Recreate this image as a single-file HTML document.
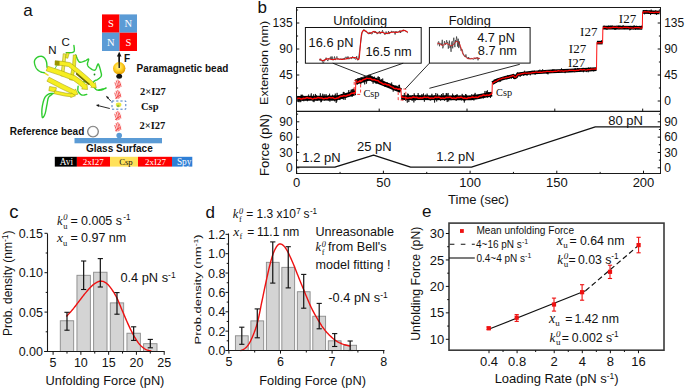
<!DOCTYPE html>
<html><head><meta charset="utf-8"><title>Figure</title>
<style>html,body{margin:0;padding:0;background:#fff;}body{width:685px;height:388px;overflow:hidden;}svg{display:block;}</style>
</head><body>
<svg width="685" height="388" viewBox="0 0 685 388">
<rect width="685" height="388" fill="#fff"/>
<text x="23.30" y="15.80" font-size="17" text-anchor="start" font-family='"Liberation Sans", sans-serif' font-weight="normal" font-style="normal" fill="#111" >a</text>
<rect x="102.00" y="14.40" width="17.50" height="18.30" fill="#ff0000" stroke="none" stroke-width="1" />
<rect x="119.50" y="14.40" width="17.50" height="18.30" fill="#5b9bd5" stroke="none" stroke-width="1" />
<rect x="102.00" y="32.70" width="17.50" height="18.30" fill="#5b9bd5" stroke="none" stroke-width="1" />
<rect x="119.50" y="32.70" width="17.50" height="18.30" fill="#ff0000" stroke="none" stroke-width="1" />
<text x="110.80" y="27.30" font-size="10.5" text-anchor="middle" font-family='"Liberation Serif", serif' font-weight="normal" font-style="normal" fill="#fff" >S</text>
<text x="128.30" y="27.30" font-size="10.5" text-anchor="middle" font-family='"Liberation Serif", serif' font-weight="normal" font-style="normal" fill="#fff" >N</text>
<text x="110.80" y="45.60" font-size="10.5" text-anchor="middle" font-family='"Liberation Serif", serif' font-weight="normal" font-style="normal" fill="#fff" >N</text>
<text x="128.30" y="45.60" font-size="10.5" text-anchor="middle" font-family='"Liberation Serif", serif' font-weight="normal" font-style="normal" fill="#fff" >S</text>
<line x1="119.20" y1="55.00" x2="119.20" y2="68.00" stroke="#111" stroke-width="1.3" />
<path d="M119.2,51.8 L116.9,56.5 L121.5,56.5 Z" fill="#111" stroke="none" stroke-width="1" />
<text x="124.00" y="62.30" font-size="10" text-anchor="start" font-family='"Liberation Sans", sans-serif' font-weight="bold" font-style="normal" fill="#111" >F</text>
<defs><radialGradient id="gb" cx="0.45" cy="0.4" r="0.6"><stop offset="0" stop-color="#fff3a0"/><stop offset="0.55" stop-color="#ffd020"/><stop offset="1" stop-color="#e09a00"/></radialGradient><radialGradient id="gr" cx="0.5" cy="0.5" r="0.5"><stop offset="0" stop-color="#fff"/><stop offset="0.7" stop-color="#fff"/><stop offset="1" stop-color="#bbb"/></radialGradient></defs>
<circle cx="119.2" cy="68.3" r="6.2" fill="url(#gb)"/>
<line x1="119.20" y1="55.00" x2="119.20" y2="68.00" stroke="#111" stroke-width="1.3" />
<ellipse cx="119.2" cy="76.3" rx="2.9" ry="2.5" fill="#111"/>
<text x="136.60" y="71.80" font-size="10" text-anchor="start" font-family='"Liberation Sans", sans-serif' font-weight="bold" font-style="normal" fill="#111" >Paramagnetic bead</text>
<ellipse cx="118.2" cy="84.2" rx="3.8" ry="4.6" fill="#ffe8e8" opacity="0.6"/>
<path d="M115.0,82.8 C115.7,85.1 116.7,86.9 117.0,88.3 M116.4,80.9 C117.2,83.7 117.7,86.0 118.4,87.9 M118.0,80.0 C118.7,82.3 119.0,85.1 119.4,87.4 M119.4,81.4 C120.2,83.2 120.8,85.1 121.0,86.5 M115.6,87.9 L120.4,84.6" fill="none" stroke="#f03030" stroke-width="0.75" stroke-linecap="round"/>
<ellipse cx="118.0" cy="94.5" rx="3.8" ry="4.7" fill="#ffe8e8" opacity="0.6"/>
<path d="M114.8,93.1 C115.5,95.4 116.5,97.3 116.8,98.7 M116.2,91.2 C117.0,94.0 117.5,96.4 118.2,98.3 M117.8,90.3 C118.5,92.6 118.8,95.4 119.2,97.8 M119.2,91.7 C120.0,93.6 120.6,95.4 120.8,96.8 M115.4,98.3 L120.2,95.0" fill="none" stroke="#f03030" stroke-width="0.75" stroke-linecap="round"/>
<ellipse cx="118.0" cy="115.7" rx="3.8" ry="4.9" fill="#ffe8e8" opacity="0.6"/>
<path d="M114.8,114.2 C115.5,116.7 116.5,118.6 116.8,120.1 M116.2,112.3 C117.0,115.2 117.5,117.7 118.2,119.6 M117.8,111.3 C118.5,113.7 118.8,116.7 119.2,119.1 M119.2,112.8 C120.0,114.7 120.6,116.7 120.8,118.1 M115.4,119.6 L120.2,116.2" fill="none" stroke="#f03030" stroke-width="0.75" stroke-linecap="round"/>
<ellipse cx="118.0" cy="126.9" rx="3.8" ry="4.9" fill="#ffe8e8" opacity="0.6"/>
<path d="M114.8,125.4 C115.5,127.9 116.5,129.8 116.8,131.3 M116.2,123.5 C117.0,126.4 117.5,128.9 118.2,130.8 M117.8,122.5 C118.5,124.9 118.8,127.9 119.2,130.3 M119.2,124.0 C120.0,125.9 120.6,127.9 120.8,129.4 M115.4,130.8 L120.2,127.4" fill="none" stroke="#f03030" stroke-width="0.75" stroke-linecap="round"/>
<rect x="112.00" y="101.00" width="13.80" height="8.20" fill="none" stroke="#4a7cc0" stroke-width="1.0" stroke-dasharray="2.2,2"/>
<ellipse cx="118.6" cy="104.8" rx="2.8" ry="2.2" fill="#e8e840"/>
<ellipse cx="118.2" cy="106.0" rx="1.3" ry="1.2" fill="#90c040"/>
<circle cx="119.2" cy="135.6" r="2.8" fill="#5b9bd5"/>
<rect x="74.50" y="138.00" width="87.50" height="5.30" fill="#5b9bd5" stroke="none" stroke-width="1" />
<circle cx="93.0" cy="131.6" r="5.4" fill="url(#gr)" stroke="#808080" stroke-width="1.1"/>
<text x="9.80" y="134.60" font-size="10" text-anchor="start" font-family='"Liberation Sans", sans-serif' font-weight="bold" font-style="normal" fill="#111" >Reference bead</text>
<text x="86.00" y="152.40" font-size="10" text-anchor="start" font-family='"Liberation Sans", sans-serif' font-weight="bold" font-style="normal" fill="#111" >Glass Surface</text>
<text x="140.00" y="94.60" font-size="10.5" text-anchor="start" font-family='"Liberation Serif", serif' font-weight="bold" font-style="normal" fill="#111" >2&#215;I27</text>
<text x="141.00" y="110.00" font-size="10.5" text-anchor="start" font-family='"Liberation Serif", serif' font-weight="bold" font-style="normal" fill="#111" >Csp</text>
<text x="139.50" y="128.60" font-size="10.5" text-anchor="start" font-family='"Liberation Serif", serif' font-weight="bold" font-style="normal" fill="#111" >2&#215;I27</text>
<line x1="110.90" y1="101.20" x2="107.30" y2="97.30" stroke="#111" stroke-width="0.9" />
<path d="M105.9,95.7 L109.0,97.2 L107.3,98.8 Z" fill="#111" stroke="none" stroke-width="1" />
<line x1="109.80" y1="108.50" x2="98.00" y2="105.60" stroke="#111" stroke-width="0.9" />
<path d="M95.9,105.0 L99.2,104.3 L98.6,106.9 Z" fill="#111" stroke="none" stroke-width="1" />
<rect x="54.80" y="156.80" width="22.10" height="9.80" fill="#000000" stroke="none" stroke-width="1" />
<text x="66.40" y="165.00" font-size="9.3" text-anchor="middle" font-family='"Liberation Serif", serif' font-weight="normal" font-style="normal" fill="#fff" >Avi</text>
<rect x="76.90" y="156.80" width="33.10" height="9.80" fill="#ff0000" stroke="none" stroke-width="1" />
<text x="93.20" y="165.00" font-size="9" text-anchor="middle" font-family='"Liberation Serif", serif' font-weight="normal" font-style="normal" fill="#fff" >2xI27</text>
<rect x="110.00" y="156.80" width="28.00" height="9.80" fill="#ffe15a" stroke="none" stroke-width="1" />
<text x="125.90" y="165.00" font-size="8.7" text-anchor="middle" font-family='"Liberation Serif", serif' font-weight="normal" font-style="normal" fill="#111" >Csp</text>
<rect x="138.00" y="156.80" width="34.00" height="9.80" fill="#ff0000" stroke="none" stroke-width="1" />
<text x="155.60" y="165.00" font-size="9" text-anchor="middle" font-family='"Liberation Serif", serif' font-weight="normal" font-style="normal" fill="#fff" >2xI27</text>
<rect x="172.00" y="156.80" width="20.30" height="9.80" fill="#2f7fd6" stroke="none" stroke-width="1" />
<text x="184.20" y="165.00" font-size="9.3" text-anchor="middle" font-family='"Liberation Serif", serif' font-weight="normal" font-style="normal" fill="#fff" >Spy</text>
<polyline points="47.00,67.20 46.97,66.79 46.95,66.24 46.92,65.58 46.88,64.85 46.82,64.09 46.74,63.34 46.64,62.63 46.50,62.00 46.33,61.43 46.13,60.86 45.91,60.31 45.67,59.78 45.40,59.28 45.12,58.81 44.82,58.38 44.50,58.00 44.16,57.66 43.81,57.35 43.44,57.07 43.04,56.83 42.63,56.62 42.21,56.47 41.76,56.36 41.30,56.30 40.80,56.29 40.26,56.33 39.69,56.41 39.11,56.54 38.54,56.72 37.98,56.94 37.46,57.20 37.00,57.50 36.56,57.85 36.13,58.24 35.71,58.69 35.32,59.17 34.98,59.69 34.70,60.26 34.50,60.86 34.40,61.50 34.40,62.21 34.49,63.02 34.66,63.89 34.90,64.78 35.19,65.67 35.51,66.53 35.85,67.31 36.20,68.00 36.58,68.60 37.00,69.14 37.45,69.63 37.94,70.08 38.44,70.48 38.96,70.85 39.48,71.19 40.00,71.50 40.55,71.78 41.16,72.01 41.80,72.21 42.44,72.37 43.05,72.50 43.60,72.62 44.06,72.71 44.40,72.80" fill="none" stroke="#2ecc2e" stroke-width="1.4" stroke-linejoin="round" stroke-linecap="round"/>
<polyline points="44.40,72.80 48.50,75.50" fill="none" stroke="#e0dc20" stroke-width="1.4" stroke-linejoin="round" />
<polyline points="54.20,69.70 54.42,69.36 54.73,68.87 55.10,68.28 55.50,67.65 55.90,67.02 56.27,66.43 56.58,65.94 56.80,65.60" fill="none" stroke="#2ecc2e" stroke-width="1.0" stroke-linejoin="round" stroke-linecap="round"/>
<polyline points="73.90,45.50 73.94,45.82 74.00,46.25 74.07,46.77 74.15,47.34 74.22,47.93 74.28,48.51 74.30,49.04 74.30,49.50 74.28,49.90 74.27,50.27 74.25,50.62 74.21,50.95 74.12,51.25 73.99,51.53 73.79,51.78 73.50,52.00 73.10,52.19 72.60,52.34 72.01,52.47 71.38,52.57 70.73,52.65 70.09,52.71 69.51,52.76 69.00,52.80 68.55,52.82 68.11,52.82 67.70,52.79 67.32,52.75 66.97,52.70 66.66,52.66 66.40,52.62 66.20,52.60" fill="none" stroke="#2ecc2e" stroke-width="1.4" stroke-linejoin="round" stroke-linecap="round"/>
<polyline points="75.80,55.00 76.05,55.60 76.37,56.45 76.76,57.47 77.19,58.57 77.67,59.67 78.18,60.66 78.73,61.47 79.30,62.00 79.93,62.25 80.64,62.29 81.41,62.17 82.20,61.94 82.99,61.65 83.76,61.33 84.47,61.03 85.10,60.80 85.68,60.56 86.25,60.25 86.79,59.90 87.29,59.55 87.73,59.25 88.11,59.05 88.40,58.99 88.60,59.10 88.65,59.43 88.55,59.95 88.34,60.62 88.07,61.38 87.80,62.17 87.56,62.96 87.41,63.68 87.40,64.30 87.50,64.83 87.66,65.32 87.88,65.79 88.15,66.23 88.47,66.65 88.84,67.05 89.25,67.43 89.70,67.80 90.23,68.20 90.85,68.65 91.54,69.11 92.26,69.53 92.99,69.88 93.69,70.12 94.34,70.21 94.90,70.10 95.38,69.72 95.83,69.06 96.23,68.22 96.60,67.27 96.94,66.33 97.25,65.45 97.53,64.75 97.80,64.30 98.03,64.08 98.21,63.98 98.35,64.00 98.47,64.12 98.59,64.34 98.70,64.63 98.84,64.99 99.00,65.40 99.20,65.91 99.42,66.55 99.65,67.28 99.89,68.08 100.12,68.90 100.34,69.72 100.54,70.50 100.70,71.20 100.86,71.85 101.02,72.48 101.19,73.10 101.33,73.70 101.42,74.28 101.46,74.84 101.43,75.38 101.30,75.90 101.06,76.40 100.71,76.88 100.29,77.34 99.81,77.78 99.29,78.20 98.77,78.59 98.27,78.96 97.80,79.30 97.35,79.59 96.88,79.84 96.41,80.04 95.94,80.23 95.48,80.41 95.05,80.61 94.65,80.83 94.30,81.10 93.99,81.43 93.71,81.82 93.46,82.23 93.23,82.66 93.03,83.08 92.86,83.45 92.72,83.77 92.60,84.00" fill="none" stroke="#2ecc2e" stroke-width="1.4" stroke-linejoin="round" stroke-linecap="round"/>
<polyline points="80.40,82.20 80.95,82.17 81.69,82.10 82.57,82.02 83.54,81.94 84.56,81.90 85.57,81.91 86.53,82.00 87.40,82.20 88.20,82.52 88.99,82.95 89.76,83.46 90.52,84.03 91.25,84.63 91.94,85.22 92.59,85.79 93.20,86.30 93.74,86.79 94.21,87.29 94.62,87.80 95.01,88.29 95.39,88.76 95.79,89.17 96.22,89.52 96.70,89.80 97.24,90.00 97.82,90.13 98.42,90.21 99.04,90.24 99.67,90.23 100.30,90.18 100.91,90.10 101.50,90.00 102.11,89.84 102.76,89.59 103.42,89.30 104.07,88.97 104.67,88.66 105.20,88.37 105.62,88.14 105.90,88.00 106.06,87.95 106.12,87.95 106.10,88.01 105.99,88.10 105.80,88.22 105.53,88.35 105.20,88.48 104.80,88.60 104.26,88.73 103.54,88.89 102.71,89.06 101.83,89.24 100.96,89.41 100.15,89.57 99.48,89.70 99.00,89.80" fill="none" stroke="#2ecc2e" stroke-width="1.4" stroke-linejoin="round" stroke-linecap="round"/>
<polyline points="78.10,86.30 78.08,86.67 78.02,87.16 77.95,87.75 77.88,88.40 77.84,89.08 77.85,89.76 77.93,90.41 78.10,91.00 78.36,91.56 78.69,92.16 79.08,92.75 79.52,93.33 80.01,93.87 80.52,94.34 81.06,94.72 81.60,95.00 82.20,95.14 82.90,95.16 83.65,95.09 84.42,94.95 85.16,94.78 85.83,94.62 86.39,94.48 86.80,94.40" fill="none" stroke="#2ecc2e" stroke-width="1.4" stroke-linejoin="round" stroke-linecap="round"/>
<polyline points="53.30,93.50 52.95,93.51 52.49,93.50 51.93,93.48 51.32,93.48 50.67,93.51 50.02,93.60 49.38,93.75 48.80,94.00 48.24,94.31 47.67,94.67 47.09,95.07 46.52,95.54 45.97,96.08 45.44,96.71 44.95,97.45 44.50,98.30 44.08,99.31 43.68,100.49 43.30,101.78 42.96,103.16 42.65,104.58 42.38,105.98 42.16,107.34 42.00,108.60 41.90,109.87 41.84,111.22 41.84,112.59 41.88,113.92 41.96,115.15 42.08,116.19 42.22,117.00 42.40,117.50 42.62,117.68 42.91,117.59 43.24,117.27 43.61,116.77 43.98,116.13 44.35,115.39 44.69,114.60 45.00,113.80 45.27,112.92 45.53,111.88 45.78,110.74 46.01,109.53 46.24,108.28 46.46,107.05 46.68,105.88 46.90,104.80 47.10,103.78 47.28,102.75 47.44,101.75 47.60,100.77 47.77,99.85 47.97,98.98 48.21,98.20 48.50,97.50 48.87,96.90 49.32,96.38 49.83,95.93 50.35,95.54 50.86,95.22 51.33,94.94 51.72,94.70 52.00,94.50" fill="none" stroke="#2ecc2e" stroke-width="1.4" stroke-linejoin="round" stroke-linecap="round"/>
<circle cx="94.5" cy="74.5" r="0.9" fill="#1a8a1a"/>
<path d="M63.2,53.7 L62.4,61.9 L60.9,75.9 L63.7,76.1 L65.2,62.1 L66.0,53.9 Z" fill="#efeb50" stroke="#9a9400" stroke-width="0.5" stroke-linejoin="round"/>
<path d="M66.8,52.7 L65.4,57.7 L67.8,58.3 L69.2,53.3 Z" fill="#ecea2a" stroke="#9a9400" stroke-width="0.5" stroke-linejoin="round"/>
<path d="M73.3,54.9 L72.5,65.8 L69.5,79.7 L72.5,80.3 L75.5,66.2 L76.3,55.1 Z" fill="#ecea2a" stroke="#9a9400" stroke-width="0.5" stroke-linejoin="round"/>
<path d="M46.9,81.2 L61.0,88.6 L72.9,94.3 L72.3,95.6 L78.0,94.2 L75.5,88.9 L74.9,90.2 L63.0,84.4 L49.1,77.2 Z" fill="#f6ee22" stroke="#9a9400" stroke-width="0.5" stroke-linejoin="round"/>
<path d="M48.8,90.7 L55.6,91.9 L56.4,87.7 L49.6,86.5 Z" fill="#f6ee22" stroke="#9a9400" stroke-width="0.5" stroke-linejoin="round"/>
<path d="M54.0,93.7 L64.7,96.0 L70.8,96.7 L70.7,97.6 L75.5,95.8 L71.3,92.9 L71.2,93.8 L65.3,93.0 L54.6,90.7 Z" fill="#f6ee22" stroke="#9a9400" stroke-width="0.5" stroke-linejoin="round"/>
<path d="M46.2,70.8 L59.2,75.1 L73.0,80.2 L79.5,84.9 L82.6,88.0 L81.6,89.0 L87.5,89.5 L87.0,83.6 L86.0,84.6 L82.5,81.1 L75.0,75.8 L60.8,70.5 L47.8,66.2 Z" fill="#f6ee22" stroke="#9a9400" stroke-width="0.5" stroke-linejoin="round"/>
<path d="M54.9,65.1 L61.8,65.5 L68.4,66.5 L76.2,72.6 L85.4,80.6 L91.6,86.4 L90.7,87.3 L96.3,88.0 L95.3,82.5 L94.5,83.4 L88.2,77.4 L78.8,69.4 L70.2,62.7 L62.2,61.3 L55.1,60.9 Z" fill="#f6ee22" stroke="#9a9400" stroke-width="0.5" stroke-linejoin="round"/>
<path d="M76.5,72.6 L86.3,80.9 L90.0,84.0 L89.0,85.3 L85.2,82.2 L75.8,74.2 Z" fill="#6e6a00" stroke="none" stroke-width="1" />
<path d="M55.0,60.6 L59.5,60.9 L59.5,65.4 L55.0,65.3 Z" fill="#9a9400" stroke="none" stroke-width="1" />
<text x="48.30" y="54.30" font-size="11.5" text-anchor="start" font-family='"Liberation Sans", sans-serif' font-weight="normal" font-style="normal" fill="#111" >N</text>
<text x="61.60" y="45.60" font-size="11.5" text-anchor="start" font-family='"Liberation Sans", sans-serif' font-weight="normal" font-style="normal" fill="#111" >C</text>
<text x="257.60" y="12.80" font-size="17" text-anchor="start" font-family='"Liberation Sans", sans-serif' font-weight="normal" font-style="normal" fill="#111" >b</text>
<line x1="296.00" y1="7.50" x2="661.00" y2="7.50" stroke="#1a1a1a" stroke-width="1.05" />
<line x1="296.50" y1="7.50" x2="296.50" y2="173.50" stroke="#1a1a1a" stroke-width="1.05" />
<line x1="660.50" y1="7.50" x2="660.50" y2="173.50" stroke="#1a1a1a" stroke-width="1.05" />
<line x1="296.50" y1="111.40" x2="660.50" y2="111.40" stroke="#1a1a1a" stroke-width="1.2" />
<line x1="296.00" y1="173.50" x2="661.00" y2="173.50" stroke="#1a1a1a" stroke-width="1.05" />
<line x1="296.50" y1="101.00" x2="299.30" y2="101.00" stroke="#111" stroke-width="1" />
<line x1="660.50" y1="101.00" x2="657.70" y2="101.00" stroke="#111" stroke-width="1" />
<text x="292.60" y="105.30" font-size="12" text-anchor="end" font-family='"Liberation Sans", sans-serif' font-weight="normal" font-style="normal" fill="#111" >0</text>
<text x="664.20" y="105.30" font-size="12" text-anchor="start" font-family='"Liberation Sans", sans-serif' font-weight="normal" font-style="normal" fill="#111" >0</text>
<line x1="296.50" y1="75.00" x2="299.30" y2="75.00" stroke="#111" stroke-width="1" />
<line x1="660.50" y1="75.00" x2="657.70" y2="75.00" stroke="#111" stroke-width="1" />
<text x="292.60" y="79.30" font-size="12" text-anchor="end" font-family='"Liberation Sans", sans-serif' font-weight="normal" font-style="normal" fill="#111" >45</text>
<text x="664.20" y="79.30" font-size="12" text-anchor="start" font-family='"Liberation Sans", sans-serif' font-weight="normal" font-style="normal" fill="#111" >45</text>
<line x1="296.50" y1="49.00" x2="299.30" y2="49.00" stroke="#111" stroke-width="1" />
<line x1="660.50" y1="49.00" x2="657.70" y2="49.00" stroke="#111" stroke-width="1" />
<text x="292.60" y="53.30" font-size="12" text-anchor="end" font-family='"Liberation Sans", sans-serif' font-weight="normal" font-style="normal" fill="#111" >90</text>
<text x="664.20" y="53.30" font-size="12" text-anchor="start" font-family='"Liberation Sans", sans-serif' font-weight="normal" font-style="normal" fill="#111" >90</text>
<line x1="296.50" y1="23.00" x2="299.30" y2="23.00" stroke="#111" stroke-width="1" />
<line x1="660.50" y1="23.00" x2="657.70" y2="23.00" stroke="#111" stroke-width="1" />
<text x="292.60" y="27.30" font-size="12" text-anchor="end" font-family='"Liberation Sans", sans-serif' font-weight="normal" font-style="normal" fill="#111" >135</text>
<text x="664.20" y="27.30" font-size="12" text-anchor="start" font-family='"Liberation Sans", sans-serif' font-weight="normal" font-style="normal" fill="#111" >135</text>
<line x1="296.50" y1="88.00" x2="298.10" y2="88.00" stroke="#111" stroke-width="1" />
<line x1="660.50" y1="88.00" x2="658.90" y2="88.00" stroke="#111" stroke-width="1" />
<line x1="296.50" y1="62.00" x2="298.10" y2="62.00" stroke="#111" stroke-width="1" />
<line x1="660.50" y1="62.00" x2="658.90" y2="62.00" stroke="#111" stroke-width="1" />
<line x1="296.50" y1="36.00" x2="298.10" y2="36.00" stroke="#111" stroke-width="1" />
<line x1="660.50" y1="36.00" x2="658.90" y2="36.00" stroke="#111" stroke-width="1" />
<line x1="296.50" y1="10.00" x2="298.10" y2="10.00" stroke="#111" stroke-width="1" />
<line x1="660.50" y1="10.00" x2="658.90" y2="10.00" stroke="#111" stroke-width="1" />
<line x1="379.20" y1="111.40" x2="379.20" y2="108.60" stroke="#111" stroke-width="1" />
<line x1="467.00" y1="111.40" x2="467.00" y2="108.60" stroke="#111" stroke-width="1" />
<line x1="554.80" y1="111.40" x2="554.80" y2="108.60" stroke="#111" stroke-width="1" />
<line x1="642.70" y1="111.40" x2="642.70" y2="108.60" stroke="#111" stroke-width="1" />
<line x1="296.50" y1="167.80" x2="299.30" y2="167.80" stroke="#111" stroke-width="1" />
<line x1="660.50" y1="167.80" x2="657.70" y2="167.80" stroke="#111" stroke-width="1" />
<text x="292.60" y="172.10" font-size="12" text-anchor="end" font-family='"Liberation Sans", sans-serif' font-weight="normal" font-style="normal" fill="#111" >0</text>
<text x="664.20" y="172.10" font-size="12" text-anchor="start" font-family='"Liberation Sans", sans-serif' font-weight="normal" font-style="normal" fill="#111" >0</text>
<line x1="296.50" y1="152.47" x2="299.30" y2="152.47" stroke="#111" stroke-width="1" />
<line x1="660.50" y1="152.47" x2="657.70" y2="152.47" stroke="#111" stroke-width="1" />
<text x="292.60" y="156.77" font-size="12" text-anchor="end" font-family='"Liberation Sans", sans-serif' font-weight="normal" font-style="normal" fill="#111" >30</text>
<text x="664.20" y="156.77" font-size="12" text-anchor="start" font-family='"Liberation Sans", sans-serif' font-weight="normal" font-style="normal" fill="#111" >30</text>
<line x1="296.50" y1="137.14" x2="299.30" y2="137.14" stroke="#111" stroke-width="1" />
<line x1="660.50" y1="137.14" x2="657.70" y2="137.14" stroke="#111" stroke-width="1" />
<text x="292.60" y="141.44" font-size="12" text-anchor="end" font-family='"Liberation Sans", sans-serif' font-weight="normal" font-style="normal" fill="#111" >60</text>
<text x="664.20" y="141.44" font-size="12" text-anchor="start" font-family='"Liberation Sans", sans-serif' font-weight="normal" font-style="normal" fill="#111" >60</text>
<line x1="296.50" y1="121.81" x2="299.30" y2="121.81" stroke="#111" stroke-width="1" />
<line x1="660.50" y1="121.81" x2="657.70" y2="121.81" stroke="#111" stroke-width="1" />
<text x="292.60" y="126.11" font-size="12" text-anchor="end" font-family='"Liberation Sans", sans-serif' font-weight="normal" font-style="normal" fill="#111" >90</text>
<text x="664.20" y="126.11" font-size="12" text-anchor="start" font-family='"Liberation Sans", sans-serif' font-weight="normal" font-style="normal" fill="#111" >90</text>
<line x1="296.50" y1="160.14" x2="298.10" y2="160.14" stroke="#111" stroke-width="1" />
<line x1="660.50" y1="160.14" x2="658.90" y2="160.14" stroke="#111" stroke-width="1" />
<line x1="296.50" y1="144.81" x2="298.10" y2="144.81" stroke="#111" stroke-width="1" />
<line x1="660.50" y1="144.81" x2="658.90" y2="144.81" stroke="#111" stroke-width="1" />
<line x1="296.50" y1="129.48" x2="298.10" y2="129.48" stroke="#111" stroke-width="1" />
<line x1="660.50" y1="129.48" x2="658.90" y2="129.48" stroke="#111" stroke-width="1" />
<line x1="296.50" y1="114.15" x2="298.10" y2="114.15" stroke="#111" stroke-width="1" />
<line x1="660.50" y1="114.15" x2="658.90" y2="114.15" stroke="#111" stroke-width="1" />
<line x1="296.70" y1="173.50" x2="296.70" y2="170.70" stroke="#111" stroke-width="1" />
<text x="296.70" y="187.00" font-size="13" text-anchor="middle" font-family='"Liberation Sans", sans-serif' font-weight="normal" font-style="normal" fill="#111" >0</text>
<line x1="383.40" y1="173.50" x2="383.40" y2="170.70" stroke="#111" stroke-width="1" />
<text x="383.40" y="187.00" font-size="13" text-anchor="middle" font-family='"Liberation Sans", sans-serif' font-weight="normal" font-style="normal" fill="#111" >50</text>
<line x1="470.10" y1="173.50" x2="470.10" y2="170.70" stroke="#111" stroke-width="1" />
<text x="470.10" y="187.00" font-size="13" text-anchor="middle" font-family='"Liberation Sans", sans-serif' font-weight="normal" font-style="normal" fill="#111" >100</text>
<line x1="556.80" y1="173.50" x2="556.80" y2="170.70" stroke="#111" stroke-width="1" />
<text x="556.80" y="187.00" font-size="13" text-anchor="middle" font-family='"Liberation Sans", sans-serif' font-weight="normal" font-style="normal" fill="#111" >150</text>
<line x1="643.50" y1="173.50" x2="643.50" y2="170.70" stroke="#111" stroke-width="1" />
<text x="643.50" y="187.00" font-size="13" text-anchor="middle" font-family='"Liberation Sans", sans-serif' font-weight="normal" font-style="normal" fill="#111" >200</text>
<line x1="340.05" y1="173.50" x2="340.05" y2="171.90" stroke="#111" stroke-width="1" />
<line x1="426.75" y1="173.50" x2="426.75" y2="171.90" stroke="#111" stroke-width="1" />
<line x1="513.45" y1="173.50" x2="513.45" y2="171.90" stroke="#111" stroke-width="1" />
<line x1="600.15" y1="173.50" x2="600.15" y2="171.90" stroke="#111" stroke-width="1" />
<text x="478.50" y="203.50" font-size="13" text-anchor="middle" font-family='"Liberation Sans", sans-serif' font-weight="normal" font-style="normal" fill="#111" >Time (sec)</text>
<text transform="translate(267.5,62.9) rotate(-90) scale(1,0.85)" font-size="12.5" text-anchor="middle" font-family='"Liberation Sans", sans-serif' fill="#111">Extension (nm)</text>
<text transform="translate(268.9,144.9) rotate(-90)" font-size="13" text-anchor="middle" font-family='"Liberation Sans", sans-serif' fill="#111">Force (pN)</text>
<polyline points="296.70,167.19 334.85,167.19 373.60,155.03 410.60,167.19 471.50,167.19 595.30,126.92 660.50,126.92" fill="none" stroke="#111" stroke-width="1.3" stroke-linejoin="round" />
<text x="302.30" y="162.30" font-size="13" text-anchor="start" font-family='"Liberation Sans", sans-serif' font-weight="normal" font-style="normal" fill="#111" >1.2 pN</text>
<text x="357.00" y="151.20" font-size="13" text-anchor="start" font-family='"Liberation Sans", sans-serif' font-weight="normal" font-style="normal" fill="#111" >25 pN</text>
<text x="436.30" y="161.30" font-size="13" text-anchor="start" font-family='"Liberation Sans", sans-serif' font-weight="normal" font-style="normal" fill="#111" >1.2 pN</text>
<text x="608.30" y="125.30" font-size="13" text-anchor="start" font-family='"Liberation Sans", sans-serif' font-weight="normal" font-style="normal" fill="#111" >80 pN</text>
<polyline points="297.30,98.40 336.50,98.00 355.50,92.80" fill="none" stroke="#000" stroke-width="4.8" stroke-linejoin="round" stroke-linecap="butt"/>
<polyline points="297.50,98.01 297.80,95.93 298.10,101.81 298.40,102.13 298.70,100.19 299.00,99.09 299.30,97.91 299.60,100.71 299.90,102.17 300.20,97.41 300.50,98.08 300.80,102.10 301.10,94.67 301.40,98.56 301.70,95.03 302.00,99.08 302.30,94.68 302.60,100.71 302.90,98.18 303.20,95.68 303.50,96.43 303.80,101.26 304.10,100.02 304.40,99.23 304.70,97.58 305.00,99.50 305.30,98.92 305.60,98.59 305.90,100.54 306.20,99.27 306.50,97.62 306.80,96.82 307.10,96.26 307.40,101.22 307.70,97.24 308.00,98.33 308.30,95.61 308.60,94.55 308.90,100.34 309.20,96.42 309.50,97.06 309.80,98.99 310.10,98.81 310.40,99.03 310.70,96.27 311.00,94.56 311.30,93.40 311.60,97.42 311.90,98.14 312.20,96.59 312.50,97.43 312.80,96.50 313.10,101.67 313.40,95.89 313.70,94.31 314.00,102.15 314.30,98.91 314.60,99.14 314.90,100.31 315.20,100.25 315.50,93.94 315.80,98.28 316.10,95.00 316.40,96.52 316.70,100.37 317.00,96.90 317.30,100.63 317.60,99.76 317.90,97.53 318.20,99.03 318.50,96.83 318.80,96.62 319.10,98.55 319.40,99.22 319.70,98.71 320.00,99.83 320.30,93.29 320.60,96.52 320.90,102.28 321.20,96.44 321.50,101.70 321.80,99.21 322.10,98.08 322.40,98.08 322.70,93.75 323.00,95.91 323.30,97.20 323.60,98.26 323.90,99.39 324.20,94.32 324.50,100.40 324.80,97.33 325.10,95.98 325.40,98.59 325.70,95.54 326.00,94.09 326.30,94.66 326.60,97.52 326.90,98.57 327.20,97.18 327.50,98.21 327.80,100.08 328.10,100.32 328.40,100.50 328.70,95.27 329.00,96.45 329.30,96.23 329.60,93.70 329.90,101.59 330.20,96.43 330.50,96.81 330.80,97.60 331.10,98.21 331.40,97.36 331.70,97.61 332.00,100.59 332.30,98.25 332.60,94.74 332.90,96.24 333.20,97.97 333.50,96.36 333.80,97.67 334.10,100.58 334.40,95.51 334.70,101.32 335.00,97.01 335.30,93.62 335.60,96.61 335.90,99.35 336.20,102.91 336.50,98.70 336.80,101.55 337.10,92.85 337.40,97.57 337.70,95.42 338.00,98.26 338.30,97.24 338.60,97.53 338.90,96.80 339.20,97.22 339.50,97.87 339.80,100.05 340.10,98.09 340.40,98.08 340.70,96.80 341.00,97.62 341.30,93.97 341.60,95.99 341.90,94.09 342.20,96.71 342.50,99.09 342.80,97.49 343.10,92.95 343.40,91.92 343.70,99.69 344.00,91.99 344.30,94.87 344.60,95.59 344.90,95.35 345.20,99.87 345.50,94.61 345.80,95.15 346.10,97.55 346.40,97.01 346.70,95.97 347.00,93.83 347.30,96.41 347.60,94.81 347.90,93.88 348.20,97.04 348.50,92.54 348.80,90.08 349.10,96.09 349.40,92.85 349.70,92.18 350.00,95.91 350.30,92.16 350.60,91.33 350.90,90.45 351.20,89.60 351.50,91.58 351.80,89.85 352.10,96.98 352.40,89.25 352.70,91.47 353.00,92.03 353.30,88.70 353.60,95.36 353.90,88.93 354.20,90.43 354.50,93.18 354.80,92.74 355.10,92.00" fill="none" stroke="#000" stroke-width="0.7" stroke-linejoin="round" />
<polyline points="355.80,82.30 369.50,78.00 401.00,90.40" fill="none" stroke="#000" stroke-width="4.8" stroke-linejoin="round" stroke-linecap="butt"/>
<polyline points="356.00,84.81 356.30,81.69 356.60,82.59 356.90,80.49 357.20,80.35 357.50,84.45 357.80,81.73 358.10,78.05 358.40,81.00 358.70,82.01 359.00,80.39 359.30,80.22 359.60,78.10 359.90,78.40 360.20,81.53 360.50,80.77 360.80,84.29 361.10,77.62 361.40,80.42 361.70,77.69 362.00,80.72 362.30,80.52 362.60,80.06 362.90,81.68 363.20,82.39 363.50,81.98 363.80,81.13 364.10,78.01 364.40,76.75 364.70,84.37 365.00,78.37 365.30,77.32 365.60,80.58 365.90,80.11 366.20,79.96 366.50,83.67 366.80,80.97 367.10,77.71 367.40,79.74 367.70,77.55 368.00,80.82 368.30,74.96 368.60,76.47 368.90,78.57 369.20,74.77 369.50,80.34 369.80,76.78 370.10,75.85 370.40,79.12 370.70,75.11 371.00,79.63 371.30,78.62 371.60,81.28 371.90,79.07 372.20,76.41 372.50,80.03 372.80,82.45 373.10,83.61 373.40,82.42 373.70,80.52 374.00,81.47 374.30,76.62 374.60,79.07 374.90,80.42 375.20,81.40 375.50,79.10 375.80,79.84 376.10,83.87 376.40,77.89 376.70,79.65 377.00,81.49 377.30,82.17 377.60,82.32 377.90,76.71 378.20,81.08 378.50,76.62 378.80,77.50 379.10,83.98 379.40,77.12 379.70,78.34 380.00,81.12 380.30,82.31 380.60,81.69 380.90,82.91 381.20,79.56 381.50,79.05 381.80,83.77 382.10,81.88 382.40,83.25 382.70,78.52 383.00,82.08 383.30,84.37 383.60,84.08 383.90,81.36 384.20,83.89 384.50,83.77 384.80,84.13 385.10,86.99 385.40,84.98 385.70,84.46 386.00,83.24 386.30,85.02 386.60,85.72 386.90,85.65 387.20,82.37 387.50,85.59 387.80,85.37 388.10,87.14 388.40,83.81 388.70,85.10 389.00,86.52 389.30,87.97 389.60,86.35 389.90,83.60 390.20,86.94 390.50,87.71 390.80,85.11 391.10,86.65 391.40,83.10 391.70,82.47 392.00,89.27 392.30,86.21 392.60,86.26 392.90,86.02 393.20,91.62 393.50,88.54 393.80,86.75 394.10,86.82 394.40,87.02 394.70,87.90 395.00,88.17 395.30,90.66 395.60,85.59 395.90,85.86 396.20,89.06 396.50,88.95 396.80,85.70 397.10,88.56 397.40,88.18 397.70,86.55 398.00,89.86 398.30,88.65 398.60,90.01 398.90,84.90 399.20,89.91 399.50,84.84 399.80,90.55 400.10,90.42 400.40,90.87 400.70,90.46" fill="none" stroke="#000" stroke-width="0.7" stroke-linejoin="round" />
<polyline points="401.40,97.60 471.00,97.90 480.00,96.30 492.00,94.00" fill="none" stroke="#000" stroke-width="4.8" stroke-linejoin="round" stroke-linecap="butt"/>
<polyline points="401.60,99.46 401.90,97.83 402.20,96.37 402.50,97.58 402.80,100.24 403.10,99.08 403.40,96.30 403.70,99.39 404.00,97.53 404.30,92.94 404.60,93.84 404.90,96.24 405.20,98.08 405.50,99.55 405.80,100.86 406.10,98.71 406.40,96.40 406.70,98.29 407.00,97.39 407.30,102.63 407.60,93.60 407.90,97.69 408.20,97.85 408.50,93.90 408.80,102.06 409.10,97.19 409.40,96.89 409.70,96.68 410.00,98.35 410.30,97.21 410.60,97.88 410.90,97.39 411.20,97.79 411.50,96.72 411.80,96.47 412.10,100.98 412.40,98.00 412.70,95.05 413.00,97.87 413.30,96.09 413.60,98.83 413.90,102.45 414.20,93.35 414.50,98.37 414.80,95.04 415.10,100.85 415.40,98.55 415.70,97.24 416.00,97.18 416.30,99.33 416.60,96.31 416.90,96.92 417.20,97.01 417.50,95.12 417.80,98.59 418.10,93.11 418.40,94.51 418.70,97.02 419.00,96.52 419.30,99.19 419.60,95.56 419.90,97.69 420.20,99.17 420.50,97.74 420.80,97.80 421.10,95.72 421.40,98.37 421.70,94.28 422.00,94.08 422.30,94.61 422.60,97.33 422.90,99.89 423.20,98.90 423.50,93.45 423.80,97.36 424.10,99.17 424.40,101.68 424.70,98.48 425.00,97.25 425.30,98.98 425.60,94.73 425.90,98.04 426.20,96.94 426.50,98.01 426.80,98.84 427.10,93.61 427.40,97.93 427.70,95.38 428.00,100.01 428.30,99.33 428.60,97.37 428.90,98.63 429.20,97.03 429.50,97.61 429.80,96.28 430.10,100.42 430.40,98.79 430.70,100.38 431.00,98.56 431.30,99.71 431.60,97.53 431.90,93.78 432.20,97.74 432.50,97.43 432.80,98.09 433.10,98.22 433.40,97.88 433.70,95.90 434.00,97.47 434.30,98.70 434.60,102.57 434.90,95.14 435.20,98.60 435.50,97.41 435.80,93.05 436.10,96.12 436.40,96.65 436.70,101.44 437.00,97.79 437.30,97.80 437.60,93.72 437.90,98.26 438.20,99.22 438.50,96.83 438.80,96.52 439.10,99.70 439.40,98.58 439.70,95.92 440.00,98.02 440.30,98.29 440.60,100.70 440.90,97.29 441.20,97.17 441.50,94.02 441.80,97.36 442.10,98.21 442.40,96.00 442.70,98.80 443.00,93.05 443.30,95.04 443.60,96.94 443.90,96.60 444.20,96.91 444.50,100.65 444.80,97.46 445.10,94.93 445.40,97.76 445.70,98.16 446.00,96.34 446.30,92.99 446.60,98.14 446.90,93.79 447.20,102.06 447.50,99.63 447.80,98.60 448.10,92.96 448.40,100.57 448.70,101.38 449.00,98.58 449.30,99.94 449.60,99.12 449.90,99.60 450.20,99.78 450.50,97.21 450.80,98.81 451.10,100.23 451.40,98.57 451.70,96.45 452.00,96.80 452.30,97.91 452.60,93.65 452.90,96.80 453.20,95.15 453.50,98.83 453.80,97.83 454.10,99.57 454.40,97.88 454.70,98.53 455.00,99.44 455.30,97.59 455.60,94.99 455.90,99.62 456.20,100.90 456.50,94.64 456.80,97.73 457.10,95.57 457.40,94.44 457.70,96.96 458.00,97.59 458.30,98.58 458.60,97.58 458.90,97.54 459.20,97.61 459.50,98.96 459.80,96.64 460.10,95.62 460.40,98.38 460.70,96.77 461.00,99.72 461.30,97.58 461.60,100.36 461.90,97.18 462.20,93.85 462.50,97.22 462.80,98.76 463.10,95.38 463.40,96.51 463.70,100.52 464.00,97.60 464.30,102.55 464.60,99.89 464.90,100.81 465.20,98.11 465.50,93.99 465.80,97.73 466.10,97.69 466.40,94.61 466.70,97.87 467.00,96.31 467.30,99.77 467.60,96.12 467.90,96.97 468.20,95.95 468.50,97.42 468.80,97.40 469.10,97.41 469.40,95.84 469.70,95.89 470.00,98.48 470.30,98.76 470.60,97.49 470.90,96.57 471.20,95.05 471.50,95.33 471.80,94.15 472.10,95.40 472.40,97.04 472.70,98.47 473.00,95.94 473.30,98.06 473.60,99.64 473.90,100.50 474.20,94.06 474.50,97.83 474.80,97.45 475.10,92.89 475.40,95.36 475.70,96.03 476.00,96.83 476.30,97.14 476.60,97.67 476.90,95.73 477.20,95.54 477.50,98.11 477.80,96.38 478.10,97.32 478.40,95.04 478.70,98.54 479.00,98.49 479.30,96.27 479.60,97.82 479.90,96.36 480.20,96.36 480.50,96.24 480.80,97.42 481.10,94.66 481.40,94.36 481.70,96.29 482.00,95.51 482.30,96.03 482.60,95.00 482.90,95.97 483.20,95.71 483.50,98.35 483.80,96.27 484.10,95.74 484.40,94.46 484.70,93.63 485.00,90.94 485.30,95.81 485.60,94.38 485.90,95.09 486.20,93.50 486.50,91.29 486.80,96.09 487.10,96.87 487.40,90.27 487.70,97.70 488.00,94.89 488.30,93.25 488.60,92.17 488.90,95.17 489.20,94.39 489.50,96.50 489.80,94.79 490.10,92.31 490.40,98.02 490.70,94.56 491.00,93.96 491.30,92.56 491.60,96.61" fill="none" stroke="#000" stroke-width="0.7" stroke-linejoin="round" />
<polyline points="492.30,83.10 498.00,79.90 505.30,77.70 511.60,76.30 513.30,75.60 514.70,77.40 516.20,76.60 517.90,74.30 530.00,72.80 551.70,71.40 570.00,70.60 596.50,69.10" fill="none" stroke="#000" stroke-width="3.6" stroke-linejoin="round" stroke-linecap="butt"/>
<polyline points="492.50,81.46 492.80,82.57 493.10,81.64 493.40,83.02 493.70,82.74 494.00,81.34 494.30,79.53 494.60,81.71 494.90,81.26 495.20,82.16 495.50,79.05 495.80,79.40 496.10,82.57 496.40,81.28 496.70,81.62 497.00,80.85 497.30,81.10 497.60,81.20 497.90,80.18 498.20,79.97 498.50,80.36 498.80,80.84 499.10,82.11 499.40,80.71 499.70,79.35 500.00,80.06 500.30,78.04 500.60,81.71 500.90,79.17 501.20,78.01 501.50,80.08 501.80,79.31 502.10,78.38 502.40,78.13 502.70,79.37 503.00,78.90 503.30,78.19 503.60,78.27 503.90,78.52 504.20,77.54 504.50,77.76 504.80,79.00 505.10,78.52 505.40,77.28 505.70,78.54 506.00,78.74 506.30,76.14 506.60,77.43 506.90,79.41 507.20,77.35 507.50,75.38 507.80,75.81 508.10,76.19 508.40,79.02 508.70,78.12 509.00,78.91 509.30,77.64 509.60,78.13 509.90,75.99 510.20,76.82 510.50,76.31 510.80,77.71 511.10,74.94 511.40,78.67 511.70,75.92 512.00,77.02 512.30,75.53 512.60,74.77 512.90,75.75 513.20,75.69 513.50,74.44 513.80,78.82 514.10,77.42 514.40,76.15 514.70,77.88 515.00,75.96 515.30,78.06 515.60,77.50 515.90,76.76 516.20,74.51 516.50,75.75 516.80,74.88 517.10,75.39 517.40,72.45 517.70,74.70 518.00,75.47 518.30,73.24 518.60,74.07 518.90,74.38 519.20,74.67 519.50,73.26 519.80,73.70 520.10,76.99 520.40,74.84 520.70,72.89 521.00,72.74 521.30,75.72 521.60,74.74 521.90,72.71 522.20,73.29 522.50,73.65 522.80,74.09 523.10,73.29 523.40,73.32 523.70,75.85 524.00,73.51 524.30,71.40 524.60,70.76 524.90,73.33 525.20,73.02 525.50,75.07 525.80,74.40 526.10,73.79 526.40,72.54 526.70,74.22 527.00,75.78 527.30,74.65 527.60,73.56 527.90,73.36 528.20,73.00 528.50,74.24 528.80,72.45 529.10,72.93 529.40,72.45 529.70,73.57 530.00,73.53 530.30,75.34 530.60,73.82 530.90,72.92 531.20,72.41 531.50,72.69 531.80,71.12 532.10,70.68 532.40,72.77 532.70,73.27 533.00,73.18 533.30,73.01 533.60,73.46 533.90,73.10 534.20,70.53 534.50,73.03 534.80,73.40 535.10,74.74 535.40,74.09 535.70,73.54 536.00,73.44 536.30,72.35 536.60,73.04 536.90,71.89 537.20,72.61 537.50,73.11 537.80,73.31 538.10,71.31 538.40,72.19 538.70,70.38 539.00,73.05 539.30,72.57 539.60,72.61 539.90,69.65 540.20,72.49 540.50,73.00 540.80,73.12 541.10,72.04 541.40,72.18 541.70,73.13 542.00,70.34 542.30,71.75 542.60,69.29 542.90,70.16 543.20,72.22 543.50,72.35 543.80,71.16 544.10,71.82 544.40,71.82 544.70,71.40 545.00,71.79 545.30,72.34 545.60,71.20 545.90,71.78 546.20,71.43 546.50,70.66 546.80,71.75 547.10,74.03 547.40,71.98 547.70,72.20 548.00,74.35 548.30,71.57 548.60,70.90 548.90,70.93 549.20,71.71 549.50,72.01 549.80,71.84 550.10,70.20 550.40,70.70 550.70,72.31 551.00,70.70 551.30,70.94 551.60,70.53 551.90,72.66 552.20,71.53 552.50,71.17 552.80,69.35 553.10,71.39 553.40,72.14 553.70,71.98 554.00,69.43 554.30,72.31 554.60,71.63 554.90,71.26 555.20,72.19 555.50,70.90 555.80,71.16 556.10,71.70 556.40,71.26 556.70,72.36 557.00,70.68 557.30,71.33 557.60,70.98 557.90,70.82 558.20,70.47 558.50,70.61 558.80,70.62 559.10,71.78 559.40,70.84 559.70,71.93 560.00,71.87 560.30,70.91 560.60,72.01 560.90,71.34 561.20,71.32 561.50,68.36 561.80,71.61 562.10,69.77 562.40,70.38 562.70,69.82 563.00,71.18 563.30,70.64 563.60,71.50 563.90,69.07 564.20,71.65 564.50,70.48 564.80,71.54 565.10,73.14 565.40,71.10 565.70,70.19 566.00,69.87 566.30,70.85 566.60,69.66 566.90,71.59 567.20,70.35 567.50,71.07 567.80,71.88 568.10,72.15 568.40,71.67 568.70,70.51 569.00,71.91 569.30,70.27 569.60,70.84 569.90,71.27 570.20,71.20 570.50,71.00 570.80,69.97 571.10,71.36 571.40,69.41 571.70,69.84 572.00,71.36 572.30,71.96 572.60,70.52 572.90,70.09 573.20,71.48 573.50,69.93 573.80,70.84 574.10,71.58 574.40,70.11 574.70,72.20 575.00,68.04 575.30,68.28 575.60,70.32 575.90,71.35 576.20,70.24 576.50,69.58 576.80,70.76 577.10,71.48 577.40,67.98 577.70,68.93 578.00,68.49 578.30,69.33 578.60,70.55 578.90,68.92 579.20,68.10 579.50,71.73 579.80,69.82 580.10,71.11 580.40,69.16 580.70,70.71 581.00,69.37 581.30,68.90 581.60,69.87 581.90,69.09 582.20,69.02 582.50,69.72 582.80,69.68 583.10,67.78 583.40,72.24 583.70,70.17 584.00,70.81 584.30,69.12 584.60,68.89 584.90,69.37 585.20,69.98 585.50,70.05 585.80,69.96 586.10,70.24 586.40,72.09 586.70,69.21 587.00,69.40 587.30,70.86 587.60,69.86 587.90,70.13 588.20,72.24 588.50,67.57 588.80,68.40 589.10,69.52 589.40,69.77 589.70,68.72 590.00,71.24 590.30,67.63 590.60,68.06 590.90,69.46 591.20,70.29 591.50,68.72 591.80,71.08 592.10,69.37 592.40,69.89 592.70,70.05 593.00,69.17 593.30,68.41 593.60,71.37 593.90,70.22 594.20,68.64 594.50,68.67 594.80,71.09 595.10,69.59 595.40,69.60 595.70,68.20 596.00,68.79 596.30,68.69" fill="none" stroke="#000" stroke-width="0.7" stroke-linejoin="round" />
<polyline points="596.90,42.60 602.60,42.60" fill="none" stroke="#000" stroke-width="3.6" stroke-linejoin="round" stroke-linecap="butt"/>
<polyline points="597.10,43.06 597.40,41.94 597.70,42.23 598.00,43.45 598.30,41.55 598.60,41.80 598.90,42.05 599.20,41.71 599.50,43.21 599.80,42.43 600.10,42.25 600.40,42.62 600.70,42.38 601.00,44.01 601.30,42.73 601.60,42.67 601.90,40.03 602.20,42.63" fill="none" stroke="#000" stroke-width="0.7" stroke-linejoin="round" />
<polyline points="602.90,27.60 620.00,27.50 642.30,27.90" fill="none" stroke="#000" stroke-width="3.6" stroke-linejoin="round" stroke-linecap="butt"/>
<polyline points="603.10,25.85 603.40,27.44 603.70,26.88 604.00,27.89 604.30,25.75 604.60,27.55 604.90,27.81 605.20,27.03 605.50,28.33 605.80,27.60 606.10,29.32 606.40,27.76 606.70,27.98 607.00,29.69 607.30,27.32 607.60,28.39 607.90,28.80 608.20,28.65 608.50,27.15 608.80,25.53 609.10,27.30 609.40,27.97 609.70,27.39 610.00,29.05 610.30,26.49 610.60,25.70 610.90,27.33 611.20,27.55 611.50,27.17 611.80,27.52 612.10,25.42 612.40,26.97 612.70,28.44 613.00,26.79 613.30,26.78 613.60,26.73 613.90,25.99 614.20,28.36 614.50,29.59 614.80,27.78 615.10,28.01 615.40,27.38 615.70,29.84 616.00,28.59 616.30,28.22 616.60,26.49 616.90,25.76 617.20,26.63 617.50,26.44 617.80,26.94 618.10,27.16 618.40,25.60 618.70,28.48 619.00,29.21 619.30,27.28 619.60,27.45 619.90,25.54 620.20,28.10 620.50,28.00 620.80,26.42 621.10,27.91 621.40,28.50 621.70,27.82 622.00,27.52 622.30,26.73 622.60,26.17 622.90,25.77 623.20,25.20 623.50,28.33 623.80,27.17 624.10,27.01 624.40,29.11 624.70,27.85 625.00,28.09 625.30,28.78 625.60,28.37 625.90,28.98 626.20,27.34 626.50,28.13 626.80,26.85 627.10,28.46 627.40,27.65 627.70,27.90 628.00,28.24 628.30,26.37 628.60,26.60 628.90,27.70 629.20,27.34 629.50,27.49 629.80,30.30 630.10,28.51 630.40,25.91 630.70,29.91 631.00,26.98 631.30,28.09 631.60,28.60 631.90,25.98 632.20,26.63 632.50,28.13 632.80,28.41 633.10,28.14 633.40,29.25 633.70,26.77 634.00,25.42 634.30,26.63 634.60,25.76 634.90,26.81 635.20,27.52 635.50,29.65 635.80,27.69 636.10,26.41 636.40,25.77 636.70,27.07 637.00,27.15 637.30,28.06 637.60,28.25 637.90,29.25 638.20,27.48 638.50,27.36 638.80,27.98 639.10,28.83 639.40,27.67 639.70,25.89 640.00,27.17 640.30,26.40 640.60,26.15 640.90,27.80 641.20,28.93 641.50,27.62 641.80,25.62 642.10,27.25" fill="none" stroke="#000" stroke-width="0.7" stroke-linejoin="round" />
<polyline points="642.60,11.90 659.60,12.50" fill="none" stroke="#000" stroke-width="3.6" stroke-linejoin="round" stroke-linecap="butt"/>
<polyline points="642.80,12.63 643.10,12.40 643.40,12.18 643.70,12.02 644.00,11.51 644.30,12.07 644.60,14.26 644.90,13.39 645.20,11.88 645.50,11.17 645.80,10.27 646.10,10.64 646.40,11.86 646.70,10.33 647.00,10.51 647.30,11.58 647.60,11.76 647.90,11.47 648.20,12.72 648.50,13.80 648.80,12.09 649.10,12.64 649.40,11.31 649.70,10.65 650.00,13.68 650.30,12.15 650.60,15.05 650.90,12.64 651.20,9.59 651.50,12.55 651.80,11.88 652.10,11.32 652.40,11.40 652.70,12.17 653.00,13.12 653.30,13.20 653.60,12.17 653.90,11.50 654.20,11.99 654.50,13.07 654.80,12.35 655.10,14.18 655.40,12.28 655.70,10.33 656.00,11.31 656.30,11.85 656.60,14.92 656.90,11.42 657.20,11.85 657.50,11.79 657.80,13.92 658.10,10.92 658.40,12.58 658.70,11.00 659.00,11.81 659.30,10.08" fill="none" stroke="#000" stroke-width="0.7" stroke-linejoin="round" />
<line x1="355.50" y1="92.80" x2="355.80" y2="82.30" stroke="#ff1010" stroke-width="1.0" />
<line x1="401.00" y1="90.40" x2="401.40" y2="97.60" stroke="#ff1010" stroke-width="1.0" />
<line x1="492.00" y1="94.00" x2="492.30" y2="83.10" stroke="#ff1010" stroke-width="1.0" />
<line x1="596.50" y1="69.10" x2="596.90" y2="42.60" stroke="#ff1010" stroke-width="1.0" />
<line x1="602.60" y1="42.60" x2="602.90" y2="27.60" stroke="#ff1010" stroke-width="1.0" />
<line x1="642.30" y1="27.90" x2="642.60" y2="11.90" stroke="#ff1010" stroke-width="1.0" />
<polyline points="297.30,98.26 298.10,98.45 298.90,98.31 299.70,98.32 300.50,98.71 301.30,99.06 302.10,98.91 302.90,98.48 303.70,98.32 304.50,98.45 305.30,98.39 306.10,97.95 306.90,97.60 307.70,97.75 308.50,98.14 309.30,98.25 310.10,98.09 310.90,98.17 311.70,98.62 312.50,98.94 313.30,98.76 314.10,98.37 314.90,98.29 315.70,98.44 316.50,98.31 317.30,97.83 318.10,97.50 318.90,97.68 319.70,98.02 320.50,98.05 321.30,97.88 322.10,98.02 322.90,98.51 323.70,98.80 324.50,98.60 325.30,98.26 326.10,98.26 326.90,98.41 327.70,98.23 328.50,97.71 329.30,97.42 330.10,97.62 330.90,97.90 331.70,97.85 332.50,97.68 333.30,97.89 334.10,98.40 334.90,98.65 335.70,98.43 336.50,98.16 337.30,98.02 338.10,97.96 338.90,97.50 339.70,96.75 340.50,96.29 341.30,96.30 342.10,96.30 342.90,95.96 343.70,95.59 344.50,95.65 345.30,95.96 346.10,95.96 346.90,95.51 347.70,95.11 348.50,95.04 349.30,94.97 350.10,94.45 350.90,93.70 351.70,93.29 352.50,93.29 353.30,93.22 354.10,92.81 354.90,92.46 355.50,92.80" fill="none" stroke="#ff0000" stroke-width="1.5" stroke-linejoin="round" />
<polyline points="355.80,81.75 356.60,81.91 357.40,82.14 358.20,81.96 359.00,81.50 359.80,81.27 360.60,81.31 361.40,81.11 362.20,80.44 363.00,79.72 363.80,79.42 364.60,79.36 365.40,79.05 366.20,78.49 367.00,78.20 367.80,78.39 368.60,78.59 369.40,78.35 370.20,78.42 371.00,78.84 371.80,79.48 372.60,79.81 373.40,79.68 374.20,79.57 375.00,79.89 375.80,80.37 376.60,80.53 377.40,80.50 378.20,80.82 379.00,81.59 379.80,82.31 380.60,82.59 381.40,82.77 382.20,83.28 383.00,83.94 383.80,84.23 384.60,84.09 385.40,84.04 386.20,84.40 387.00,84.83 387.80,84.91 388.60,84.87 389.40,85.23 390.20,86.00 391.00,86.65 391.80,86.90 392.60,87.12 393.40,87.71 394.20,88.39 395.00,88.64 395.80,88.50 396.60,88.51 397.40,88.92 398.20,89.29 399.00,89.30 399.80,89.24 400.60,89.65 401.00,90.40" fill="none" stroke="#ff0000" stroke-width="1.5" stroke-linejoin="round" />
<polyline points="401.40,97.19 402.20,96.92 403.00,97.16 403.80,97.48 404.60,97.46 405.40,97.31 406.20,97.52 407.00,98.04 407.80,98.29 408.60,98.06 409.40,97.78 410.20,97.84 411.00,97.99 411.80,97.75 412.60,97.23 413.40,97.01 414.20,97.26 415.00,97.51 415.80,97.41 416.60,97.28 417.40,97.56 418.20,98.08 419.00,98.29 419.80,98.05 420.60,97.84 421.40,97.98 422.20,98.11 423.00,97.81 423.80,97.29 424.60,97.11 425.40,97.36 426.20,97.54 427.00,97.37 427.80,97.26 428.60,97.59 429.40,98.12 430.20,98.28 431.00,98.04 431.80,97.91 432.60,98.11 433.40,98.22 434.20,97.87 435.00,97.36 435.80,97.23 436.60,97.47 437.40,97.56 438.20,97.34 439.00,97.25 439.80,97.63 440.60,98.14 441.40,98.25 442.20,98.03 443.00,97.99 443.80,98.24 444.60,98.32 445.40,97.93 446.20,97.43 447.00,97.36 447.80,97.58 448.60,97.58 449.40,97.31 450.20,97.25 451.00,97.68 451.80,98.16 452.60,98.22 453.40,98.01 454.20,98.06 455.00,98.36 455.80,98.41 456.60,97.98 457.40,97.52 458.20,97.50 459.00,97.69 459.80,97.61 460.60,97.29 461.40,97.27 462.20,97.72 463.00,98.16 463.80,98.17 464.60,98.00 465.40,98.14 466.20,98.47 467.00,98.48 467.80,98.02 468.60,97.62 469.40,97.64 470.20,97.79 471.00,97.63 471.80,97.14 472.60,97.02 473.40,97.34 474.20,97.57 475.00,97.39 475.80,97.12 476.60,97.19 477.40,97.40 478.20,97.22 479.00,96.62 479.80,96.13 480.60,96.04 481.40,95.98 482.20,95.58 483.00,95.06 483.80,94.97 484.60,95.28 485.40,95.44 486.20,95.21 487.00,94.98 487.80,95.12 488.60,95.33 489.40,95.09 490.20,94.48 491.00,94.05 491.80,93.99 492.00,94.00" fill="none" stroke="#ff0000" stroke-width="1.5" stroke-linejoin="round" />
<polyline points="492.30,82.94 493.10,82.78 493.90,82.46 494.70,81.91 495.50,81.40 496.30,81.08 497.10,80.73 497.90,80.12 498.70,79.56 499.50,79.21 500.30,79.07 501.10,78.87 501.90,78.48 502.70,78.14 503.50,78.07 504.30,78.12 505.10,77.97 505.90,77.68 506.70,77.49 507.50,77.47 508.30,77.39 509.10,77.02 509.90,76.57 510.70,76.31 511.50,76.23 512.30,75.91 513.10,75.40 513.90,76.01 514.70,77.23 515.50,77.08 516.30,76.63 517.10,75.45 517.90,74.40 518.70,74.50 519.50,74.47 520.30,74.17 521.10,73.81 521.90,73.67 522.70,73.66 523.50,73.50 524.30,73.20 525.10,73.03 525.90,73.14 526.70,73.29 527.50,73.22 528.30,73.04 529.10,73.02 529.90,73.13 530.70,73.13 531.50,72.86 532.30,72.58 533.10,72.52 533.90,72.54 534.70,72.39 535.50,72.11 536.30,72.02 537.10,72.18 537.90,72.35 538.70,72.29 539.50,72.17 540.30,72.24 541.10,72.42 541.90,72.41 542.70,72.13 543.50,71.89 544.30,71.86 545.10,71.86 545.90,71.66 546.70,71.37 547.50,71.30 548.30,71.47 549.10,71.59 549.90,71.51 550.70,71.41 551.50,71.53 552.30,71.73 553.10,71.70 553.90,71.45 554.70,71.26 555.50,71.27 556.30,71.27 557.10,71.05 557.90,70.77 558.70,70.74 559.50,70.92 560.30,71.02 561.10,70.92 561.90,70.87 562.70,71.04 563.50,71.24 564.30,71.20 565.10,70.95 565.90,70.80 566.70,70.84 567.50,70.81 568.30,70.56 569.10,70.28 569.90,70.27 570.70,70.43 571.50,70.47 572.30,70.35 573.10,70.31 573.90,70.50 574.70,70.69 575.50,70.61 576.30,70.37 577.10,70.26 577.90,70.30 578.70,70.24 579.50,69.94 580.30,69.67 581.10,69.66 581.90,69.81 582.70,69.80 583.50,69.66 584.30,69.65 585.10,69.87 585.90,70.04 586.70,69.95 587.50,69.73 588.30,69.66 589.10,69.72 589.90,69.63 590.70,69.31 591.50,69.05 592.30,69.06 593.10,69.18 593.90,69.13 594.70,68.97 595.50,68.99 596.30,69.23 596.50,69.10" fill="none" stroke="#ff0000" stroke-width="1.3" stroke-linejoin="round" />
<polyline points="596.90,42.68 597.70,42.89 598.50,42.83 599.30,42.71 600.10,42.76 600.90,42.89 601.70,42.81 602.50,42.52 602.60,42.60" fill="none" stroke="#ff0000" stroke-width="1.3" stroke-linejoin="round" />
<polyline points="602.90,27.38 603.70,27.51 604.50,27.44 605.30,27.36 606.10,27.50 606.90,27.79 607.70,27.90 608.50,27.77 609.30,27.66 610.10,27.73 610.90,27.80 611.70,27.64 612.50,27.34 613.30,27.22 614.10,27.35 614.90,27.43 615.70,27.33 616.50,27.25 617.30,27.43 618.10,27.71 618.90,27.80 619.70,27.67 620.50,27.61 621.30,27.74 622.10,27.82 622.90,27.64 623.70,27.37 624.50,27.30 625.30,27.44 626.10,27.50 626.90,27.38 627.70,27.34 628.50,27.56 629.30,27.86 630.10,27.94 630.90,27.83 631.70,27.82 632.50,27.98 633.30,28.05 634.10,27.85 634.90,27.59 635.70,27.55 636.50,27.68 637.30,27.69 638.10,27.54 638.90,27.52 639.70,27.76 640.50,28.04 641.30,28.09 642.10,28.00 642.30,27.90" fill="none" stroke="#ff0000" stroke-width="1.3" stroke-linejoin="round" />
<polyline points="642.60,12.18 643.40,12.09 644.20,11.83 645.00,11.69 645.80,11.81 646.60,11.94 647.40,11.89 648.20,11.80 649.00,11.96 649.80,12.28 650.60,12.46 651.40,12.39 652.20,12.34 653.00,12.47 653.80,12.61 654.60,12.50 655.40,12.23 656.20,12.12 657.00,12.25 657.80,12.34 658.60,12.24 659.40,12.16 659.60,12.50" fill="none" stroke="#ff0000" stroke-width="1.3" stroke-linejoin="round" />
<rect x="354.20" y="80.40" width="6.40" height="14.00" fill="none" stroke="#ff2020" stroke-width="0.9" stroke-dasharray="3,2.2"/>
<rect x="398.20" y="89.00" width="7.60" height="11.00" fill="none" stroke="#ff2020" stroke-width="0.9" stroke-dasharray="3,2.2"/>
<text x="363.40" y="97.20" font-size="10.3" text-anchor="start" font-family='"Liberation Serif", serif' font-weight="normal" font-style="normal" fill="#111" >Csp</text>
<text x="496.10" y="95.70" font-size="10.3" text-anchor="start" font-family='"Liberation Serif", serif' font-weight="normal" font-style="normal" fill="#111" >Csp</text>
<text x="567.90" y="67.30" font-size="13" text-anchor="start" font-family='"Liberation Serif", serif' font-weight="normal" font-style="normal" fill="#111" >I27</text>
<text x="568.80" y="52.80" font-size="13" text-anchor="start" font-family='"Liberation Serif", serif' font-weight="normal" font-style="normal" fill="#111" >I27</text>
<text x="580.10" y="36.00" font-size="13" text-anchor="start" font-family='"Liberation Serif", serif' font-weight="normal" font-style="normal" fill="#111" >I27</text>
<text x="618.80" y="23.00" font-size="13" text-anchor="start" font-family='"Liberation Serif", serif' font-weight="normal" font-style="normal" fill="#111" >I27</text>
<rect x="305.40" y="27.50" width="115.80" height="35.70" fill="#fff" stroke="#111" stroke-width="1.0" />
<rect x="429.40" y="27.50" width="100.70" height="35.60" fill="#fff" stroke="#111" stroke-width="1.0" />
<text x="360.20" y="24.50" font-size="12.8" text-anchor="middle" font-family='"Liberation Sans", sans-serif' font-weight="normal" font-style="normal" fill="#111" >Unfolding</text>
<text x="469.80" y="24.50" font-size="12.8" text-anchor="middle" font-family='"Liberation Sans", sans-serif' font-weight="normal" font-style="normal" fill="#111" >Folding</text>
<text x="308.60" y="46.90" font-size="12.8" text-anchor="start" font-family='"Liberation Sans", sans-serif' font-weight="normal" font-style="normal" fill="#111" >16.6 pN</text>
<text x="365.50" y="56.20" font-size="12.8" text-anchor="start" font-family='"Liberation Sans", sans-serif' font-weight="normal" font-style="normal" fill="#111" >16.5 nm</text>
<text x="477.20" y="42.20" font-size="12.8" text-anchor="start" font-family='"Liberation Sans", sans-serif' font-weight="normal" font-style="normal" fill="#111" >4.7 pN</text>
<text x="477.80" y="54.50" font-size="12.8" text-anchor="start" font-family='"Liberation Sans", sans-serif' font-weight="normal" font-style="normal" fill="#111" >8.7 nm</text>
<line x1="332.80" y1="63.20" x2="369.60" y2="77.60" stroke="#111" stroke-width="0.9" />
<line x1="403.20" y1="63.20" x2="355.00" y2="80.00" stroke="#111" stroke-width="0.9" />
<line x1="429.40" y1="63.20" x2="405.30" y2="88.90" stroke="#111" stroke-width="0.9" />
<line x1="519.80" y1="64.30" x2="429.40" y2="88.30" stroke="#111" stroke-width="0.9" />
<polyline points="319.50,59.31 320.10,60.69 320.70,58.72 321.30,60.77 321.90,61.01 322.50,61.38 323.10,63.07 323.70,62.47 324.30,59.70 324.90,60.48 325.50,59.23 326.10,57.66 326.70,59.70 327.30,60.23 327.90,61.09 328.50,58.58 329.10,57.91 329.70,58.29 330.30,59.07 330.90,56.64 331.50,60.02 332.10,56.47 332.70,59.74 333.30,60.17 333.90,58.62 334.50,56.51 335.10,60.03 335.70,59.57 336.30,57.62 336.90,56.45 337.50,59.16 338.10,58.95 338.70,58.90 339.30,59.41 339.90,59.27 340.50,59.01 341.10,58.47 341.70,59.18 342.30,58.90 342.90,58.99 343.50,59.00 344.10,58.04 344.70,59.34 345.30,57.04 345.90,57.16 346.50,57.00 347.10,59.22 347.70,56.60 348.30,56.67 348.90,59.27 349.50,58.65 350.10,58.53 350.70,57.77 351.30,58.69 351.90,58.59 352.50,56.57 353.10,56.84 353.70,58.35 354.30,57.79 354.90,58.98 355.50,59.24 356.10,59.10 356.70,56.20 357.30,59.75 357.90,60.32 358.50,59.14 362.10,32.21 362.70,31.85 363.30,30.63 363.90,29.40 364.50,30.63 365.10,31.60 365.70,31.50 366.30,31.17 366.90,31.94 367.50,33.15 368.10,33.52 368.70,34.17 369.30,32.23 369.90,32.73 370.50,32.44 371.10,33.83 371.70,33.96 372.30,33.84 372.90,32.10 373.50,31.40 374.10,30.98 374.70,32.78 375.30,31.22 375.90,32.89 376.50,31.88 377.10,34.13 377.70,32.91 378.30,32.89 378.90,31.92 379.50,31.14 380.10,33.93 380.70,33.56 381.30,32.84 381.90,32.31 382.50,30.29 383.10,31.98 383.70,33.11 384.30,33.02 384.90,34.82 385.50,33.34 386.10,31.55 386.70,33.34 387.30,34.10 387.90,33.41 388.50,31.19 389.10,34.07 389.70,31.96 390.30,32.98 390.90,32.54 391.50,30.89 392.10,31.94 392.70,31.86 393.30,31.87 393.90,31.22 394.50,32.15 395.10,34.53 395.70,31.36 396.30,31.99 396.90,31.44 397.50,32.51 398.10,31.50 398.70,32.06 399.30,32.30 399.90,30.39 400.50,33.01 401.10,31.78 401.70,30.96 402.30,30.41 402.90,31.52 403.50,29.81 404.10,30.78 404.70,30.04 405.30,31.07 405.90,31.13 406.50,31.61 407.10,32.28 407.70,32.83" fill="none" stroke="#222" stroke-width="0.7" stroke-linejoin="round" />
<polyline points="319.50,58.90 319.96,59.19 320.61,59.62 321.38,60.08 322.20,60.45 323.00,60.60 323.77,60.44 324.56,60.05 325.39,59.57 326.26,59.14 327.20,58.90 328.25,58.91 329.41,59.07 330.59,59.31 331.75,59.51 332.80,59.60 333.71,59.53 334.51,59.36 335.29,59.16 336.09,58.99 337.00,58.90 338.01,58.95 339.07,59.10 340.19,59.28 341.37,59.40 342.60,59.40 343.93,59.23 345.37,58.93 346.83,58.59 348.27,58.25 349.60,58.00 350.84,57.80 352.04,57.62 353.18,57.48 354.24,57.43 355.20,57.50 356.07,57.88 356.87,58.53 357.57,59.19 358.19,59.58 358.70,59.40 359.08,58.59 359.32,57.33 359.48,55.74 359.62,53.92 359.80,52.00 360.00,49.82 360.20,47.32 360.39,44.70 360.59,42.19 360.80,40.00 361.01,38.13 361.21,36.42 361.42,34.90 361.68,33.58 362.00,32.50 362.36,31.65 362.75,31.02 363.20,30.61 363.74,30.40 364.40,30.40 365.23,30.77 366.21,31.51 367.27,32.37 368.32,33.12 369.30,33.50 370.18,33.39 371.03,32.94 371.85,32.36 372.67,31.85 373.50,31.60 374.34,31.70 375.18,32.02 376.02,32.43 376.86,32.80 377.70,33.00 378.54,32.96 379.38,32.78 380.22,32.54 381.06,32.35 381.90,32.30 382.72,32.46 383.51,32.76 384.32,33.10 385.17,33.38 386.10,33.50 387.13,33.39 388.24,33.14 389.39,32.81 390.56,32.50 391.70,32.30 392.84,32.25 394.01,32.28 395.16,32.34 396.27,32.37 397.30,32.30 398.25,32.10 399.15,31.80 399.99,31.46 400.77,31.14 401.50,30.90 402.14,30.70 402.69,30.52 403.20,30.38 403.72,30.33 404.30,30.40 405.01,30.66 405.82,31.08 406.62,31.56 407.31,32.00 407.80,32.30" fill="none" stroke="#e01010" stroke-width="1.1" stroke-linejoin="round" />
<polyline points="437.30,45.13 437.85,44.79 438.40,41.67 438.95,41.60 439.50,46.29 440.05,43.63 440.60,42.94 441.15,43.49 441.70,44.99 442.25,39.81 442.80,48.33 443.35,46.25 443.90,45.87 444.45,41.20 445.00,43.27 445.55,44.78 446.10,43.54 446.65,40.21 447.20,42.81 447.75,42.18 448.30,48.71 448.85,45.13 449.40,40.58 449.95,47.80 450.50,46.12 451.05,51.81 451.60,42.43 452.15,41.26 452.70,48.35 453.25,41.31 453.80,37.71 454.35,42.69 454.90,47.15 455.45,40.21 456.00,41.81 456.55,36.51 457.10,39.81 457.65,46.63 458.20,38.71 458.75,48.08 459.30,41.32 459.85,46.83 460.40,46.86 460.95,50.60 461.50,49.46 462.05,49.10 462.60,51.07 463.15,54.62 463.70,54.20 464.25,56.14 464.80,56.38 465.35,57.12 465.90,54.43 466.45,57.13 467.00,57.13 467.55,57.86 468.10,59.12 468.65,57.08 469.20,58.66 469.75,58.40 470.30,59.06 470.85,58.33 471.40,58.35 471.95,58.81 472.50,58.94 473.05,59.29 473.60,59.29 474.15,59.21 474.70,58.14 475.25,58.23 475.80,59.14 476.35,57.67 476.90,58.03 477.45,57.40 478.00,60.37 478.55,58.03 479.10,57.95 479.65,58.61" fill="none" stroke="#222" stroke-width="0.65" stroke-linejoin="round" />
<polyline points="437.30,43.20 437.58,43.28 437.97,43.39 438.44,43.51 438.94,43.66 439.44,43.82 439.90,44.00 440.33,44.24 440.76,44.54 441.19,44.86 441.63,45.15 442.06,45.34 442.50,45.40 442.95,45.26 443.40,44.96 443.85,44.56 444.30,44.16 444.75,43.81 445.20,43.60 445.64,43.53 446.07,43.53 446.51,43.60 446.94,43.71 447.37,43.85 447.80,44.00 448.24,44.19 448.68,44.44 449.13,44.73 449.56,45.00 449.99,45.24 450.40,45.40 450.79,45.51 451.16,45.60 451.52,45.66 451.88,45.65 452.24,45.57 452.60,45.40 452.97,45.09 453.33,44.65 453.70,44.13 454.07,43.60 454.43,43.10 454.80,42.70 455.17,42.37 455.53,42.05 455.90,41.77 456.27,41.55 456.63,41.42 457.00,41.40 457.37,41.49 457.75,41.68 458.13,41.95 458.50,42.30 458.86,42.72 459.20,43.20 459.51,43.76 459.80,44.40 460.07,45.11 460.34,45.87 460.62,46.67 460.90,47.50 461.19,48.40 461.48,49.39 461.77,50.43 462.07,51.44 462.38,52.38 462.70,53.20 463.04,53.88 463.40,54.47 463.77,54.99 464.15,55.46 464.53,55.89 464.90,56.30 465.25,56.69 465.59,57.03 465.92,57.34 466.27,57.62 466.66,57.87 467.10,58.10 467.61,58.31 468.17,58.50 468.77,58.66 469.39,58.79 470.00,58.87 470.60,58.90 471.19,58.85 471.80,58.72 472.41,58.55 473.00,58.37 473.57,58.21 474.10,58.10 474.58,58.05 475.01,58.03 475.43,58.03 475.83,58.04 476.25,58.07 476.70,58.10 477.22,58.15 477.81,58.22 478.41,58.30 478.98,58.38 479.46,58.45 479.80,58.50" fill="none" stroke="#e01010" stroke-width="1.0" stroke-linejoin="round" />
<text x="9.20" y="217.70" font-size="18.5" text-anchor="start" font-family='"Liberation Sans", sans-serif' font-weight="normal" font-style="normal" fill="#111" >c</text>
<rect x="60.29" y="320.77" width="13.40" height="30.73" fill="#d4d4d4" stroke="#8a8a8a" stroke-width="0.9" />
<rect x="76.95" y="275.30" width="13.40" height="76.20" fill="#d4d4d4" stroke="#8a8a8a" stroke-width="0.9" />
<rect x="93.62" y="272.23" width="13.40" height="79.27" fill="#d4d4d4" stroke="#8a8a8a" stroke-width="0.9" />
<rect x="110.28" y="302.88" width="13.40" height="48.62" fill="#d4d4d4" stroke="#8a8a8a" stroke-width="0.9" />
<rect x="126.95" y="333.22" width="13.40" height="18.28" fill="#d4d4d4" stroke="#8a8a8a" stroke-width="0.9" />
<rect x="143.61" y="343.70" width="13.40" height="7.80" fill="#d4d4d4" stroke="#8a8a8a" stroke-width="0.9" />
<polyline points="66.40,316.50 66.79,316.07 67.29,315.52 67.88,314.88 68.54,314.15 69.25,313.37 70.00,312.54 70.75,311.69 71.50,310.84 72.22,310.00 72.90,309.20 73.54,308.41 74.18,307.60 74.82,306.78 75.46,305.95 76.10,305.11 76.74,304.27 77.38,303.42 78.02,302.58 78.66,301.73 79.30,300.90 79.95,300.06 80.60,299.22 81.25,298.37 81.90,297.52 82.55,296.67 83.20,295.83 83.85,294.99 84.50,294.18 85.15,293.38 85.80,292.60 86.45,291.83 87.10,291.06 87.76,290.30 88.42,289.54 89.08,288.81 89.72,288.09 90.36,287.41 90.99,286.76 91.60,286.16 92.20,285.60 92.78,285.09 93.36,284.62 93.92,284.18 94.48,283.78 95.02,283.41 95.55,283.08 96.06,282.77 96.56,282.49 97.04,282.23 97.50,282.00 97.93,281.80 98.33,281.63 98.71,281.48 99.07,281.37 99.41,281.29 99.75,281.23 100.10,281.19 100.45,281.17 100.81,281.18 101.20,281.20 101.60,281.23 102.01,281.28 102.42,281.34 102.84,281.43 103.27,281.54 103.70,281.68 104.14,281.85 104.59,282.05 105.04,282.30 105.50,282.60 105.97,282.93 106.44,283.29 106.91,283.68 107.40,284.11 107.89,284.58 108.39,285.08 108.90,285.63 109.42,286.24 109.95,286.89 110.50,287.60 111.07,288.37 111.65,289.19 112.26,290.07 112.88,291.00 113.50,291.97 114.13,292.98 114.76,294.04 115.38,295.13 116.00,296.25 116.60,297.40 117.19,298.60 117.78,299.86 118.36,301.18 118.94,302.53 119.52,303.92 120.09,305.32 120.67,306.73 121.24,308.14 121.82,309.53 122.40,310.90 122.98,312.26 123.56,313.63 124.14,315.01 124.72,316.39 125.30,317.77 125.88,319.14 126.46,320.49 127.04,321.82 127.62,323.13 128.20,324.40 128.78,325.65 129.36,326.89 129.94,328.12 130.52,329.33 131.11,330.51 131.69,331.67 132.27,332.81 132.85,333.91 133.42,334.97 134.00,336.00 134.57,336.99 135.14,337.96 135.71,338.89 136.28,339.80 136.85,340.67 137.42,341.52 137.99,342.32 138.56,343.09 139.13,343.81 139.70,344.50 140.28,345.14 140.85,345.75 141.43,346.31 142.01,346.84 142.59,347.33 143.18,347.78 143.76,348.20 144.34,348.60 144.92,348.96 145.50,349.30 146.11,349.60 146.75,349.87 147.42,350.09 148.10,350.28 148.76,350.45 149.40,350.59 149.99,350.71 150.51,350.82 150.95,350.91 151.30,351.00" fill="none" stroke="#ee1111" stroke-width="1.4" stroke-linejoin="round" />
<line x1="66.99" y1="312.30" x2="66.99" y2="330.20" stroke="#111" stroke-width="1.2" />
<line x1="64.39" y1="312.30" x2="69.59" y2="312.30" stroke="#111" stroke-width="1.1" />
<line x1="64.39" y1="330.20" x2="69.59" y2="330.20" stroke="#111" stroke-width="1.1" />
<line x1="83.65" y1="261.00" x2="83.65" y2="289.50" stroke="#111" stroke-width="1.2" />
<line x1="81.05" y1="261.00" x2="86.25" y2="261.00" stroke="#111" stroke-width="1.1" />
<line x1="81.05" y1="289.50" x2="86.25" y2="289.50" stroke="#111" stroke-width="1.1" />
<line x1="100.32" y1="258.60" x2="100.32" y2="287.00" stroke="#111" stroke-width="1.2" />
<line x1="97.72" y1="258.60" x2="102.92" y2="258.60" stroke="#111" stroke-width="1.1" />
<line x1="97.72" y1="287.00" x2="102.92" y2="287.00" stroke="#111" stroke-width="1.1" />
<line x1="116.98" y1="292.60" x2="116.98" y2="314.20" stroke="#111" stroke-width="1.2" />
<line x1="114.38" y1="292.60" x2="119.58" y2="292.60" stroke="#111" stroke-width="1.1" />
<line x1="114.38" y1="314.20" x2="119.58" y2="314.20" stroke="#111" stroke-width="1.1" />
<line x1="133.65" y1="326.80" x2="133.65" y2="340.40" stroke="#111" stroke-width="1.2" />
<line x1="131.05" y1="326.80" x2="136.25" y2="326.80" stroke="#111" stroke-width="1.1" />
<line x1="131.05" y1="340.40" x2="136.25" y2="340.40" stroke="#111" stroke-width="1.1" />
<line x1="150.31" y1="339.40" x2="150.31" y2="347.80" stroke="#111" stroke-width="1.2" />
<line x1="147.71" y1="339.40" x2="152.91" y2="339.40" stroke="#111" stroke-width="1.1" />
<line x1="147.71" y1="347.80" x2="152.91" y2="347.80" stroke="#111" stroke-width="1.1" />
<line x1="47.50" y1="233.50" x2="47.50" y2="352.00" stroke="#1a1a1a" stroke-width="1.1" />
<line x1="44.20" y1="351.50" x2="164.60" y2="351.50" stroke="#1a1a1a" stroke-width="1.1" />
<line x1="44.50" y1="351.50" x2="47.50" y2="351.50" stroke="#111" stroke-width="1" />
<text x="43.00" y="356.00" font-size="12.5" text-anchor="end" font-family='"Liberation Sans", sans-serif' font-weight="normal" font-style="normal" fill="#111" >0.00</text>
<line x1="44.50" y1="312.10" x2="47.50" y2="312.10" stroke="#111" stroke-width="1" />
<text x="43.00" y="316.60" font-size="12.5" text-anchor="end" font-family='"Liberation Sans", sans-serif' font-weight="normal" font-style="normal" fill="#111" >0.05</text>
<line x1="44.50" y1="272.70" x2="47.50" y2="272.70" stroke="#111" stroke-width="1" />
<text x="43.00" y="277.20" font-size="12.5" text-anchor="end" font-family='"Liberation Sans", sans-serif' font-weight="normal" font-style="normal" fill="#111" >0.10</text>
<line x1="44.50" y1="233.30" x2="47.50" y2="233.30" stroke="#111" stroke-width="1" />
<text x="43.00" y="237.80" font-size="12.5" text-anchor="end" font-family='"Liberation Sans", sans-serif' font-weight="normal" font-style="normal" fill="#111" >0.15</text>
<line x1="45.70" y1="331.80" x2="47.50" y2="331.80" stroke="#111" stroke-width="1" />
<line x1="45.70" y1="292.40" x2="47.50" y2="292.40" stroke="#111" stroke-width="1" />
<line x1="45.70" y1="253.00" x2="47.50" y2="253.00" stroke="#111" stroke-width="1" />
<line x1="53.10" y1="351.50" x2="53.10" y2="354.80" stroke="#111" stroke-width="1" />
<text x="53.10" y="366.80" font-size="12.5" text-anchor="middle" font-family='"Liberation Sans", sans-serif' font-weight="normal" font-style="normal" fill="#111" >5</text>
<line x1="80.88" y1="351.50" x2="80.88" y2="354.80" stroke="#111" stroke-width="1" />
<text x="80.88" y="366.80" font-size="12.5" text-anchor="middle" font-family='"Liberation Sans", sans-serif' font-weight="normal" font-style="normal" fill="#111" >10</text>
<line x1="108.65" y1="351.50" x2="108.65" y2="354.80" stroke="#111" stroke-width="1" />
<text x="108.65" y="366.80" font-size="12.5" text-anchor="middle" font-family='"Liberation Sans", sans-serif' font-weight="normal" font-style="normal" fill="#111" >15</text>
<line x1="136.42" y1="351.50" x2="136.42" y2="354.80" stroke="#111" stroke-width="1" />
<text x="136.42" y="366.80" font-size="12.5" text-anchor="middle" font-family='"Liberation Sans", sans-serif' font-weight="normal" font-style="normal" fill="#111" >20</text>
<line x1="164.20" y1="351.50" x2="164.20" y2="354.80" stroke="#111" stroke-width="1" />
<text x="164.20" y="366.80" font-size="12.5" text-anchor="middle" font-family='"Liberation Sans", sans-serif' font-weight="normal" font-style="normal" fill="#111" >25</text>
<line x1="66.99" y1="351.50" x2="66.99" y2="353.60" stroke="#111" stroke-width="1" />
<line x1="94.76" y1="351.50" x2="94.76" y2="353.60" stroke="#111" stroke-width="1" />
<line x1="122.54" y1="351.50" x2="122.54" y2="353.60" stroke="#111" stroke-width="1" />
<line x1="150.31" y1="351.50" x2="150.31" y2="353.60" stroke="#111" stroke-width="1" />
<text x="105.00" y="384.60" font-size="12.8" text-anchor="middle" font-family='"Liberation Sans", sans-serif' font-weight="normal" font-style="normal" fill="#111" >Unfolding Force (pN)</text>
<text transform="translate(12.1,283.2) rotate(-90)" font-size="12" text-anchor="middle" font-family='"Liberation Sans", sans-serif' fill="#111">Prob. density (nm<tspan dy="-4" font-size="8.5">-1</tspan><tspan dy="4">)</tspan></text>
<text x="56.90" y="225.10" font-size="12.5" text-anchor="start" font-family='"Liberation Serif", serif' font-weight="normal" font-style="italic" fill="#111" >k</text>
<text x="63.15" y="220.30" font-size="8.5" text-anchor="start" font-family='"Liberation Serif", serif' font-weight="normal" font-style="italic" fill="#111" >0</text>
<text x="63.15" y="228.50" font-size="8.5" text-anchor="start" font-family='"Liberation Serif", serif' font-weight="normal" font-style="normal" fill="#111" >u</text>
<text x="70.40" y="225.10" font-size="12.5" text-anchor="start" font-family='"Liberation Sans", sans-serif' font-weight="normal" font-style="normal" fill="#111" >=</text>
<text x="81.00" y="225.10" font-size="12.5" text-anchor="start" font-family='"Liberation Sans", sans-serif' font-weight="normal" font-style="normal" fill="#111" >0.005 s</text>
<text x="123.30" y="220.30" font-size="8.2" text-anchor="start" font-family='"Liberation Sans", sans-serif' font-weight="normal" font-style="normal" fill="#111" >-1</text>
<text x="56.90" y="242.20" font-size="13.5" text-anchor="start" font-family='"Liberation Serif", serif' font-weight="normal" font-style="italic" fill="#111" >x</text>
<text x="63.11" y="245.60" font-size="8.5" text-anchor="start" font-family='"Liberation Serif", serif' font-weight="normal" font-style="normal" fill="#111" >u</text>
<text x="70.40" y="242.20" font-size="12.5" text-anchor="start" font-family='"Liberation Sans", sans-serif' font-weight="normal" font-style="normal" fill="#111" >=</text>
<text x="81.00" y="242.20" font-size="12.5" text-anchor="start" font-family='"Liberation Sans", sans-serif' font-weight="normal" font-style="normal" fill="#111" >0.97 nm</text>
<text x="120.4" y="282.2" font-family='"Liberation Sans", sans-serif' font-size="12.8" fill="#111">0.4 pN s<tspan dy="-4.6" font-size="8.5">-1</tspan></text>
<text x="205.40" y="217.50" font-size="17" text-anchor="start" font-family='"Liberation Sans", sans-serif' font-weight="normal" font-style="normal" fill="#111" >d</text>
<rect x="235.40" y="335.79" width="12.80" height="14.71" fill="#d4d4d4" stroke="#8a8a8a" stroke-width="0.9" />
<rect x="250.88" y="320.88" width="12.80" height="29.62" fill="#d4d4d4" stroke="#8a8a8a" stroke-width="0.9" />
<rect x="266.36" y="262.32" width="12.80" height="88.18" fill="#d4d4d4" stroke="#8a8a8a" stroke-width="0.9" />
<rect x="281.84" y="267.35" width="12.80" height="83.15" fill="#d4d4d4" stroke="#8a8a8a" stroke-width="0.9" />
<rect x="297.32" y="291.74" width="12.80" height="58.76" fill="#d4d4d4" stroke="#8a8a8a" stroke-width="0.9" />
<rect x="312.80" y="316.23" width="12.80" height="34.27" fill="#d4d4d4" stroke="#8a8a8a" stroke-width="0.9" />
<rect x="328.28" y="340.82" width="12.80" height="9.68" fill="#d4d4d4" stroke="#8a8a8a" stroke-width="0.9" />
<rect x="343.76" y="345.27" width="12.80" height="5.23" fill="#d4d4d4" stroke="#8a8a8a" stroke-width="0.9" />
<polyline points="240.50,350.80 240.83,350.62 241.26,350.42 241.76,350.18 242.33,349.92 242.94,349.62 243.57,349.28 244.21,348.90 244.84,348.48 245.45,348.01 246.00,347.50 246.52,346.96 247.01,346.41 247.50,345.83 247.98,345.22 248.46,344.56 248.94,343.83 249.43,343.02 249.94,342.12 250.46,341.12 251.00,340.00 251.57,338.76 252.17,337.42 252.79,335.99 253.42,334.46 254.06,332.86 254.69,331.17 255.32,329.42 255.94,327.60 256.53,325.73 257.10,323.80 257.64,321.77 258.17,319.62 258.68,317.36 259.18,315.02 259.67,312.64 260.15,310.24 260.62,307.84 261.08,305.49 261.54,303.20 262.00,301.00 262.45,298.88 262.88,296.79 263.31,294.73 263.73,292.70 264.14,290.70 264.55,288.72 264.96,286.76 265.37,284.83 265.78,282.91 266.20,281.00 266.62,279.09 267.04,277.18 267.46,275.28 267.88,273.39 268.31,271.53 268.73,269.71 269.15,267.93 269.57,266.22 269.98,264.57 270.40,263.00 270.81,261.50 271.21,260.05 271.61,258.66 272.00,257.32 272.40,256.03 272.80,254.80 273.21,253.64 273.62,252.53 274.05,251.48 274.50,250.50 274.96,249.56 275.43,248.65 275.90,247.78 276.39,246.96 276.88,246.22 277.38,245.56 277.90,244.99 278.42,244.53 278.96,244.20 279.50,244.00 280.05,243.93 280.62,243.96 281.19,244.11 281.78,244.35 282.37,244.71 282.97,245.16 283.59,245.72 284.21,246.38 284.85,247.14 285.50,248.00 286.17,249.00 286.87,250.18 287.59,251.49 288.32,252.92 289.06,254.43 289.79,255.99 290.52,257.57 291.24,259.16 291.93,260.71 292.60,262.20 293.24,263.66 293.86,265.15 294.47,266.64 295.07,268.15 295.66,269.66 296.23,271.16 296.80,272.65 297.37,274.13 297.94,275.58 298.50,277.00 299.05,278.38 299.58,279.70 300.10,280.99 300.61,282.26 301.12,283.53 301.64,284.81 302.17,286.11 302.72,287.45 303.29,288.84 303.90,290.30 304.54,291.84 305.20,293.46 305.88,295.14 306.58,296.85 307.29,298.59 308.02,300.33 308.76,302.06 309.50,303.76 310.25,305.41 311.00,307.00 311.76,308.55 312.54,310.08 313.34,311.60 314.14,313.09 314.95,314.56 315.76,315.99 316.56,317.39 317.36,318.74 318.14,320.05 318.90,321.30 319.64,322.49 320.35,323.63 321.04,324.72 321.72,325.77 322.40,326.77 323.08,327.75 323.78,328.71 324.49,329.65 325.23,330.58 326.00,331.50 326.81,332.43 327.66,333.35 328.54,334.27 329.43,335.16 330.34,336.04 331.24,336.88 332.14,337.69 333.02,338.45 333.88,339.15 334.70,339.80 335.48,340.38 336.23,340.90 336.96,341.37 337.66,341.79 338.36,342.17 339.06,342.52 339.77,342.85 340.49,343.17 341.23,343.48 342.00,343.80 342.84,344.12 343.76,344.42 344.73,344.71 345.72,344.99 346.71,345.25 347.65,345.49 348.54,345.71 349.32,345.90 349.99,346.06 350.50,346.20" fill="none" stroke="#ee1111" stroke-width="1.4" stroke-linejoin="round" />
<line x1="241.80" y1="327.20" x2="241.80" y2="344.30" stroke="#111" stroke-width="1.2" />
<line x1="239.20" y1="327.20" x2="244.40" y2="327.20" stroke="#111" stroke-width="1.1" />
<line x1="239.20" y1="344.30" x2="244.40" y2="344.30" stroke="#111" stroke-width="1.1" />
<line x1="257.28" y1="308.90" x2="257.28" y2="337.80" stroke="#111" stroke-width="1.2" />
<line x1="254.68" y1="308.90" x2="259.88" y2="308.90" stroke="#111" stroke-width="1.1" />
<line x1="254.68" y1="337.80" x2="259.88" y2="337.80" stroke="#111" stroke-width="1.1" />
<line x1="272.76" y1="241.90" x2="272.76" y2="283.10" stroke="#111" stroke-width="1.2" />
<line x1="270.16" y1="241.90" x2="275.36" y2="241.90" stroke="#111" stroke-width="1.1" />
<line x1="270.16" y1="283.10" x2="275.36" y2="283.10" stroke="#111" stroke-width="1.1" />
<line x1="288.24" y1="246.70" x2="288.24" y2="287.90" stroke="#111" stroke-width="1.2" />
<line x1="285.64" y1="246.70" x2="290.84" y2="246.70" stroke="#111" stroke-width="1.1" />
<line x1="285.64" y1="287.90" x2="290.84" y2="287.90" stroke="#111" stroke-width="1.1" />
<line x1="303.72" y1="274.40" x2="303.72" y2="308.20" stroke="#111" stroke-width="1.2" />
<line x1="301.12" y1="274.40" x2="306.32" y2="274.40" stroke="#111" stroke-width="1.1" />
<line x1="301.12" y1="308.20" x2="306.32" y2="308.20" stroke="#111" stroke-width="1.1" />
<line x1="319.20" y1="303.40" x2="319.20" y2="328.80" stroke="#111" stroke-width="1.2" />
<line x1="316.60" y1="303.40" x2="321.80" y2="303.40" stroke="#111" stroke-width="1.1" />
<line x1="316.60" y1="328.80" x2="321.80" y2="328.80" stroke="#111" stroke-width="1.1" />
<line x1="334.68" y1="333.60" x2="334.68" y2="346.50" stroke="#111" stroke-width="1.2" />
<line x1="332.08" y1="333.60" x2="337.28" y2="333.60" stroke="#111" stroke-width="1.1" />
<line x1="332.08" y1="346.50" x2="337.28" y2="346.50" stroke="#111" stroke-width="1.1" />
<line x1="350.16" y1="341.00" x2="350.16" y2="350.50" stroke="#111" stroke-width="1.2" />
<line x1="347.56" y1="341.00" x2="352.76" y2="341.00" stroke="#111" stroke-width="1.1" />
<line x1="347.56" y1="350.50" x2="352.76" y2="350.50" stroke="#111" stroke-width="1.1" />
<line x1="228.50" y1="233.50" x2="228.50" y2="351.00" stroke="#1a1a1a" stroke-width="1.1" />
<line x1="225.70" y1="350.50" x2="384.50" y2="350.50" stroke="#1a1a1a" stroke-width="1.1" />
<line x1="225.50" y1="350.50" x2="228.50" y2="350.50" stroke="#111" stroke-width="1" />
<text x="225.40" y="355.00" font-size="12.5" text-anchor="end" font-family='"Liberation Sans", sans-serif' font-weight="normal" font-style="normal" fill="#111" >0.0</text>
<line x1="225.50" y1="331.14" x2="228.50" y2="331.14" stroke="#111" stroke-width="1" />
<text x="225.40" y="335.64" font-size="12.5" text-anchor="end" font-family='"Liberation Sans", sans-serif' font-weight="normal" font-style="normal" fill="#111" >0.2</text>
<line x1="225.50" y1="311.78" x2="228.50" y2="311.78" stroke="#111" stroke-width="1" />
<text x="225.40" y="316.28" font-size="12.5" text-anchor="end" font-family='"Liberation Sans", sans-serif' font-weight="normal" font-style="normal" fill="#111" >0.4</text>
<line x1="225.50" y1="292.42" x2="228.50" y2="292.42" stroke="#111" stroke-width="1" />
<text x="225.40" y="296.92" font-size="12.5" text-anchor="end" font-family='"Liberation Sans", sans-serif' font-weight="normal" font-style="normal" fill="#111" >0.6</text>
<line x1="225.50" y1="273.06" x2="228.50" y2="273.06" stroke="#111" stroke-width="1" />
<text x="225.40" y="277.56" font-size="12.5" text-anchor="end" font-family='"Liberation Sans", sans-serif' font-weight="normal" font-style="normal" fill="#111" >0.8</text>
<line x1="225.50" y1="253.70" x2="228.50" y2="253.70" stroke="#111" stroke-width="1" />
<text x="225.40" y="258.20" font-size="12.5" text-anchor="end" font-family='"Liberation Sans", sans-serif' font-weight="normal" font-style="normal" fill="#111" >1.0</text>
<line x1="225.50" y1="234.34" x2="228.50" y2="234.34" stroke="#111" stroke-width="1" />
<text x="225.40" y="238.84" font-size="12.5" text-anchor="end" font-family='"Liberation Sans", sans-serif' font-weight="normal" font-style="normal" fill="#111" >1.2</text>
<line x1="226.70" y1="340.82" x2="228.50" y2="340.82" stroke="#111" stroke-width="1" />
<line x1="226.70" y1="321.46" x2="228.50" y2="321.46" stroke="#111" stroke-width="1" />
<line x1="226.70" y1="302.10" x2="228.50" y2="302.10" stroke="#111" stroke-width="1" />
<line x1="226.70" y1="282.74" x2="228.50" y2="282.74" stroke="#111" stroke-width="1" />
<line x1="226.70" y1="263.38" x2="228.50" y2="263.38" stroke="#111" stroke-width="1" />
<line x1="226.70" y1="244.02" x2="228.50" y2="244.02" stroke="#111" stroke-width="1" />
<line x1="228.90" y1="350.50" x2="228.90" y2="353.60" stroke="#111" stroke-width="1" />
<text x="228.90" y="365.60" font-size="12.5" text-anchor="middle" font-family='"Liberation Sans", sans-serif' font-weight="normal" font-style="normal" fill="#111" >5</text>
<line x1="280.50" y1="350.50" x2="280.50" y2="353.60" stroke="#111" stroke-width="1" />
<text x="280.50" y="365.60" font-size="12.5" text-anchor="middle" font-family='"Liberation Sans", sans-serif' font-weight="normal" font-style="normal" fill="#111" >6</text>
<line x1="332.10" y1="350.50" x2="332.10" y2="353.60" stroke="#111" stroke-width="1" />
<text x="332.10" y="365.60" font-size="12.5" text-anchor="middle" font-family='"Liberation Sans", sans-serif' font-weight="normal" font-style="normal" fill="#111" >7</text>
<line x1="383.70" y1="350.50" x2="383.70" y2="353.60" stroke="#111" stroke-width="1" />
<text x="383.70" y="365.60" font-size="12.5" text-anchor="middle" font-family='"Liberation Sans", sans-serif' font-weight="normal" font-style="normal" fill="#111" >8</text>
<line x1="254.70" y1="350.50" x2="254.70" y2="352.50" stroke="#111" stroke-width="1" />
<line x1="306.30" y1="350.50" x2="306.30" y2="352.50" stroke="#111" stroke-width="1" />
<line x1="357.90" y1="350.50" x2="357.90" y2="352.50" stroke="#111" stroke-width="1" />
<text x="312.60" y="384.60" font-size="12.8" text-anchor="middle" font-family='"Liberation Sans", sans-serif' font-weight="normal" font-style="normal" fill="#111" >Folding Force (pN)</text>
<text transform="translate(200.6,289.5) rotate(-90) scale(1,0.72)" font-size="13" text-anchor="middle" font-family='"Liberation Sans", sans-serif' fill="#111">Prob.density (nm<tspan dy="-4" font-size="8.5">-1</tspan><tspan dy="4">)</tspan></text>
<text x="232.80" y="218.40" font-size="12.5" text-anchor="start" font-family='"Liberation Serif", serif' font-weight="normal" font-style="italic" fill="#111" >k</text>
<text x="239.05" y="213.60" font-size="8.3" text-anchor="start" font-family='"Liberation Serif", serif' font-weight="normal" font-style="italic" fill="#111" >0</text>
<text x="239.05" y="221.80" font-size="8.3" text-anchor="start" font-family='"Liberation Serif", serif' font-weight="normal" font-style="normal" fill="#111" >f</text>
<text x="246.30" y="218.40" font-size="12" text-anchor="start" font-family='"Liberation Sans", sans-serif' font-weight="normal" font-style="normal" fill="#111" >=</text>
<text x="256.50" y="218.40" font-size="12" text-anchor="start" font-family='"Liberation Sans", sans-serif' font-weight="normal" font-style="normal" fill="#111" >1.3 x10</text>
<text x="296.30" y="213.60" font-size="8.2" text-anchor="start" font-family='"Liberation Sans", sans-serif' font-weight="normal" font-style="normal" fill="#111" >7</text>
<text x="303.40" y="218.40" font-size="12" text-anchor="start" font-family='"Liberation Sans", sans-serif' font-weight="normal" font-style="normal" fill="#111" >s</text>
<text x="309.90" y="213.60" font-size="8.2" text-anchor="start" font-family='"Liberation Sans", sans-serif' font-weight="normal" font-style="normal" fill="#111" >-1</text>
<text x="233.20" y="235.60" font-size="13.5" text-anchor="start" font-family='"Liberation Serif", serif' font-weight="normal" font-style="italic" fill="#111" >x</text>
<text x="239.41" y="239.00" font-size="8.5" text-anchor="start" font-family='"Liberation Serif", serif' font-weight="normal" font-style="normal" fill="#111" >f</text>
<text x="247.30" y="235.60" font-size="12" text-anchor="start" font-family='"Liberation Sans", sans-serif' font-weight="normal" font-style="normal" fill="#111" >=</text>
<text x="256.90" y="235.60" font-size="12" text-anchor="start" font-family='"Liberation Sans", sans-serif' font-weight="normal" font-style="normal" fill="#111" >11.1 nm</text>
<text x="315.50" y="235.80" font-size="12.6" text-anchor="start" font-family='"Liberation Sans", sans-serif' font-weight="normal" font-style="normal" fill="#111" >Unreasonable</text>
<text x="315.40" y="251.30" font-size="12.5" text-anchor="start" font-family='"Liberation Serif", serif' font-weight="normal" font-style="italic" fill="#111" >k</text>
<text x="321.65" y="246.50" font-size="8.3" text-anchor="start" font-family='"Liberation Serif", serif' font-weight="normal" font-style="italic" fill="#111" >0</text>
<text x="321.65" y="254.70" font-size="8.3" text-anchor="start" font-family='"Liberation Serif", serif' font-weight="normal" font-style="normal" fill="#111" >f</text>
<text x="328.10" y="251.30" font-size="12.6" text-anchor="start" font-family='"Liberation Sans", sans-serif' font-weight="normal" font-style="normal" fill="#111" >from Bell's</text>
<text x="315.50" y="269.20" font-size="12.6" text-anchor="start" font-family='"Liberation Sans", sans-serif' font-weight="normal" font-style="normal" fill="#111" >model fitting !</text>
<text x="328.3" y="302.3" font-family='"Liberation Sans", sans-serif' font-size="12.8" fill="#111">-0.4 pN s<tspan dy="-4.8" font-size="8.5">-1</tspan></text>
<text x="422.00" y="217.40" font-size="17" text-anchor="start" font-family='"Liberation Sans", sans-serif' font-weight="normal" font-style="normal" fill="#111" >e</text>
<rect x="449.00" y="223.10" width="215.00" height="127.10" fill="none" stroke="#3a3a3a" stroke-width="1.6" />
<line x1="445.80" y1="339.30" x2="449.00" y2="339.30" stroke="#111" stroke-width="1" />
<text x="444.30" y="343.90" font-size="13" text-anchor="end" font-family='"Liberation Sans", sans-serif' font-weight="normal" font-style="normal" fill="#111" >10</text>
<line x1="445.80" y1="312.85" x2="449.00" y2="312.85" stroke="#111" stroke-width="1" />
<text x="444.30" y="317.45" font-size="13" text-anchor="end" font-family='"Liberation Sans", sans-serif' font-weight="normal" font-style="normal" fill="#111" >15</text>
<line x1="445.80" y1="286.40" x2="449.00" y2="286.40" stroke="#111" stroke-width="1" />
<text x="444.30" y="291.00" font-size="13" text-anchor="end" font-family='"Liberation Sans", sans-serif' font-weight="normal" font-style="normal" fill="#111" >20</text>
<line x1="445.80" y1="259.95" x2="449.00" y2="259.95" stroke="#111" stroke-width="1" />
<text x="444.30" y="264.55" font-size="13" text-anchor="end" font-family='"Liberation Sans", sans-serif' font-weight="normal" font-style="normal" fill="#111" >25</text>
<line x1="445.80" y1="233.50" x2="449.00" y2="233.50" stroke="#111" stroke-width="1" />
<text x="444.30" y="238.10" font-size="13" text-anchor="end" font-family='"Liberation Sans", sans-serif' font-weight="normal" font-style="normal" fill="#111" >30</text>
<line x1="447.20" y1="326.07" x2="449.00" y2="326.07" stroke="#111" stroke-width="1" />
<line x1="447.20" y1="299.62" x2="449.00" y2="299.62" stroke="#111" stroke-width="1" />
<line x1="447.20" y1="273.18" x2="449.00" y2="273.18" stroke="#111" stroke-width="1" />
<line x1="447.20" y1="246.73" x2="449.00" y2="246.73" stroke="#111" stroke-width="1" />
<line x1="489.00" y1="350.20" x2="489.00" y2="353.20" stroke="#111" stroke-width="1" />
<text x="489.00" y="366.20" font-size="13" text-anchor="middle" font-family='"Liberation Sans", sans-serif' font-weight="normal" font-style="normal" fill="#111" >0.4</text>
<line x1="517.09" y1="350.20" x2="517.09" y2="353.20" stroke="#111" stroke-width="1" />
<text x="517.09" y="366.20" font-size="13" text-anchor="middle" font-family='"Liberation Sans", sans-serif' font-weight="normal" font-style="normal" fill="#111" >0.8</text>
<line x1="554.21" y1="350.20" x2="554.21" y2="353.20" stroke="#111" stroke-width="1" />
<text x="554.21" y="366.20" font-size="13" text-anchor="middle" font-family='"Liberation Sans", sans-serif' font-weight="normal" font-style="normal" fill="#111" >2</text>
<line x1="582.30" y1="350.20" x2="582.30" y2="353.20" stroke="#111" stroke-width="1" />
<text x="582.30" y="366.20" font-size="13" text-anchor="middle" font-family='"Liberation Sans", sans-serif' font-weight="normal" font-style="normal" fill="#111" >4</text>
<line x1="610.39" y1="350.20" x2="610.39" y2="353.20" stroke="#111" stroke-width="1" />
<text x="610.39" y="366.20" font-size="13" text-anchor="middle" font-family='"Liberation Sans", sans-serif' font-weight="normal" font-style="normal" fill="#111" >8</text>
<line x1="638.47" y1="350.20" x2="638.47" y2="353.20" stroke="#111" stroke-width="1" />
<text x="638.47" y="366.20" font-size="13" text-anchor="middle" font-family='"Liberation Sans", sans-serif' font-weight="normal" font-style="normal" fill="#111" >16</text>
<line x1="503.04" y1="350.20" x2="503.04" y2="352.00" stroke="#111" stroke-width="1" />
<line x1="535.65" y1="350.20" x2="535.65" y2="352.00" stroke="#111" stroke-width="1" />
<line x1="568.26" y1="350.20" x2="568.26" y2="352.00" stroke="#111" stroke-width="1" />
<line x1="596.34" y1="350.20" x2="596.34" y2="352.00" stroke="#111" stroke-width="1" />
<line x1="624.43" y1="350.20" x2="624.43" y2="352.00" stroke="#111" stroke-width="1" />
<text x="556.60" y="383.30" font-size="13" text-anchor="middle" font-family='"Liberation Sans", sans-serif' font-weight="normal" font-style="normal" fill="#111" >Loading Rate (pN s<tspan dy="-4.6" font-size="8.5">-1</tspan><tspan dy="4.6">)</tspan></text>
<text transform="translate(420.0,283.7) rotate(-90)" font-size="12.3" text-anchor="middle" font-family='"Liberation Sans", sans-serif' fill="#111">Unfolding Force (pN)</text>
<line x1="488.70" y1="329.30" x2="585.50" y2="290.80" stroke="#111" stroke-width="1.2" />
<line x1="585.50" y1="290.80" x2="639.00" y2="245.00" stroke="#111" stroke-width="1.2" stroke-dasharray="5.2,3"/>
<rect x="460.00" y="229.10" width="3.80" height="3.80" fill="#ee1111" stroke="none" stroke-width="1" />
<text x="476.40" y="234.20" font-size="10.1" text-anchor="start" font-family='"Liberation Sans", sans-serif' font-weight="normal" font-style="normal" fill="#111" >Mean unfolding Force</text>
<line x1="449.80" y1="244.30" x2="474.80" y2="244.30" stroke="#111" stroke-width="1.1" stroke-dasharray="4.6,6.4"/>
<text x="476.0" y="248.2" font-family='"Liberation Sans", sans-serif' font-size="10" fill="#111">4~16 pN s<tspan dy="-3.8" font-size="7">-1</tspan></text>
<line x1="449.00" y1="258.00" x2="474.80" y2="258.00" stroke="#111" stroke-width="1.1" />
<text x="476.4" y="261.8" font-family='"Liberation Sans", sans-serif' font-size="10" fill="#111">0.4~4 pN s<tspan dy="-3.8" font-size="7">-1</tspan></text>
<line x1="488.70" y1="327.00" x2="488.70" y2="329.50" stroke="#ee1111" stroke-width="1.1" />
<line x1="486.60" y1="327.00" x2="490.80" y2="327.00" stroke="#ee1111" stroke-width="1.1" />
<line x1="486.60" y1="329.50" x2="490.80" y2="329.50" stroke="#ee1111" stroke-width="1.1" />
<rect x="486.60" y="326.20" width="4.20" height="4.20" fill="#ee1111" stroke="none" stroke-width="1" />
<line x1="516.70" y1="314.60" x2="516.70" y2="321.40" stroke="#ee1111" stroke-width="1.1" />
<line x1="514.60" y1="314.60" x2="518.80" y2="314.60" stroke="#ee1111" stroke-width="1.1" />
<line x1="514.60" y1="321.40" x2="518.80" y2="321.40" stroke="#ee1111" stroke-width="1.1" />
<rect x="514.60" y="315.60" width="4.20" height="4.20" fill="#ee1111" stroke="none" stroke-width="1" />
<line x1="554.00" y1="298.10" x2="554.00" y2="311.10" stroke="#ee1111" stroke-width="1.1" />
<line x1="551.90" y1="298.10" x2="556.10" y2="298.10" stroke="#ee1111" stroke-width="1.1" />
<line x1="551.90" y1="311.10" x2="556.10" y2="311.10" stroke="#ee1111" stroke-width="1.1" />
<rect x="551.90" y="302.40" width="4.20" height="4.20" fill="#ee1111" stroke="none" stroke-width="1" />
<line x1="582.10" y1="284.70" x2="582.10" y2="300.20" stroke="#ee1111" stroke-width="1.1" />
<line x1="580.00" y1="284.70" x2="584.20" y2="284.70" stroke="#ee1111" stroke-width="1.1" />
<line x1="580.00" y1="300.20" x2="584.20" y2="300.20" stroke="#ee1111" stroke-width="1.1" />
<rect x="580.00" y="290.10" width="4.20" height="4.20" fill="#ee1111" stroke="none" stroke-width="1" />
<line x1="610.00" y1="265.20" x2="610.00" y2="278.50" stroke="#ee1111" stroke-width="1.1" />
<line x1="607.90" y1="265.20" x2="612.10" y2="265.20" stroke="#ee1111" stroke-width="1.1" />
<line x1="607.90" y1="278.50" x2="612.10" y2="278.50" stroke="#ee1111" stroke-width="1.1" />
<rect x="607.90" y="269.70" width="4.20" height="4.20" fill="#ee1111" stroke="none" stroke-width="1" />
<line x1="638.60" y1="237.30" x2="638.60" y2="252.80" stroke="#ee1111" stroke-width="1.1" />
<line x1="636.50" y1="237.30" x2="640.70" y2="237.30" stroke="#ee1111" stroke-width="1.1" />
<line x1="636.50" y1="252.80" x2="640.70" y2="252.80" stroke="#ee1111" stroke-width="1.1" />
<rect x="636.50" y="243.00" width="4.20" height="4.20" fill="#ee1111" stroke="none" stroke-width="1" />
<text x="556.80" y="244.80" font-size="14" text-anchor="start" font-family='"Liberation Serif", serif' font-weight="normal" font-style="italic" fill="#111" >x</text>
<text x="563.24" y="248.20" font-size="9" text-anchor="start" font-family='"Liberation Serif", serif' font-weight="normal" font-style="normal" fill="#111" >u</text>
<text x="569.60" y="244.80" font-size="12.3" text-anchor="start" font-family='"Liberation Sans", sans-serif' font-weight="normal" font-style="normal" fill="#111" >=</text>
<text x="580.00" y="244.80" font-size="12.3" text-anchor="start" font-family='"Liberation Sans", sans-serif' font-weight="normal" font-style="normal" fill="#111" >0.64 nm</text>
<text x="557.30" y="263.50" font-size="13" text-anchor="start" font-family='"Liberation Serif", serif' font-weight="normal" font-style="italic" fill="#111" >k</text>
<text x="563.80" y="258.70" font-size="9" text-anchor="start" font-family='"Liberation Serif", serif' font-weight="normal" font-style="italic" fill="#111" >0</text>
<text x="563.80" y="266.90" font-size="9" text-anchor="start" font-family='"Liberation Serif", serif' font-weight="normal" font-style="normal" fill="#111" >u</text>
<text x="568.60" y="263.50" font-size="12.3" text-anchor="start" font-family='"Liberation Sans", sans-serif' font-weight="normal" font-style="normal" fill="#111" >=</text>
<text x="578.00" y="263.50" font-size="12.3" text-anchor="start" font-family='"Liberation Sans", sans-serif' font-weight="normal" font-style="normal" fill="#111" >0.03 s</text>
<text x="611.20" y="258.70" font-size="8.2" text-anchor="start" font-family='"Liberation Sans", sans-serif' font-weight="normal" font-style="normal" fill="#111" >-1</text>
<text x="548.90" y="322.90" font-size="14" text-anchor="start" font-family='"Liberation Serif", serif' font-weight="normal" font-style="italic" fill="#111" >x</text>
<text x="555.34" y="326.30" font-size="9" text-anchor="start" font-family='"Liberation Serif", serif' font-weight="normal" font-style="normal" fill="#111" >u</text>
<text x="565.20" y="322.90" font-size="12.3" text-anchor="start" font-family='"Liberation Sans", sans-serif' font-weight="normal" font-style="normal" fill="#111" >=</text>
<text x="574.50" y="322.90" font-size="12.3" text-anchor="start" font-family='"Liberation Sans", sans-serif' font-weight="normal" font-style="normal" fill="#111" >1.42 nm</text>
<text x="549.40" y="341.60" font-size="13" text-anchor="start" font-family='"Liberation Serif", serif' font-weight="normal" font-style="italic" fill="#111" >k</text>
<text x="555.90" y="336.80" font-size="9" text-anchor="start" font-family='"Liberation Serif", serif' font-weight="normal" font-style="italic" fill="#111" >0</text>
<text x="555.90" y="345.00" font-size="9" text-anchor="start" font-family='"Liberation Serif", serif' font-weight="normal" font-style="normal" fill="#111" >u</text>
<text x="561.70" y="341.60" font-size="12.3" text-anchor="start" font-family='"Liberation Sans", sans-serif' font-weight="normal" font-style="normal" fill="#111" >=</text>
<text x="571.80" y="341.60" font-size="12.3" text-anchor="start" font-family='"Liberation Sans", sans-serif' font-weight="normal" font-style="normal" fill="#111" >0.002 s</text>
<text x="611.40" y="336.80" font-size="8.2" text-anchor="start" font-family='"Liberation Sans", sans-serif' font-weight="normal" font-style="normal" fill="#111" >-1</text>
</svg>
</body></html>
